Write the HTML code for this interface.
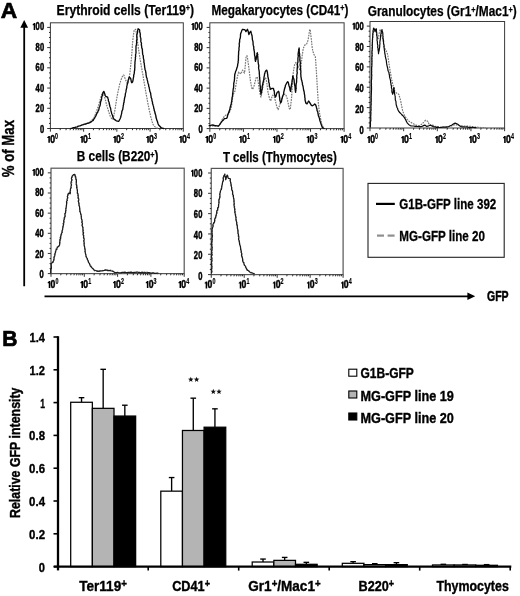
<!DOCTYPE html>
<html><head><meta charset="utf-8"><title>Figure</title>
<style>
html,body{margin:0;padding:0;background:#fff;}
body{width:520px;height:596px;overflow:hidden;font-family:"Liberation Sans", sans-serif;}
svg{display:block;will-change:transform;}
text{font-family:"Liberation Sans", sans-serif;font-weight:bold;fill:#000;}
.box{fill:none;}
.tk{stroke:#333;stroke-width:1;}
.mtk{stroke:#222;stroke-width:0.95;}
.yl{font-size:10px;stroke:#000;stroke-width:0.5;}
.xl{font-size:10px;stroke:#000;stroke-width:0.5;}
.sup{font-size:8.4px;stroke:#000;stroke-width:0.2;}
.sol{fill:none;stroke:#0a0a0a;stroke-width:1.35;stroke-linejoin:round;stroke-linecap:round;}
.sol3{fill:none;stroke:#0a0a0a;stroke-width:1.2;stroke-linejoin:round;stroke-linecap:round;}
.sol2{fill:none;stroke:#1a1a1a;stroke-width:1.2;stroke-linejoin:round;stroke-linecap:round;}
.dash{fill:none;stroke:#777;stroke-width:1.2;stroke-dasharray:1.7 1.0;stroke-linejoin:round;}
.bar{stroke:#000;stroke-width:1.25;}
.err{stroke:#000;stroke-width:1.35;}
.bl{font-size:12.8px;stroke:#000;stroke-width:0.35;}
.ttl{font-size:14px;stroke:#000;stroke-width:0.25;}
.big{font-size:15.4px;stroke:#000;stroke-width:0.4;}
.pan{font-size:22.2px;stroke:#000;stroke-width:0.7;}
</style></head><body>
<svg width="520" height="596" viewBox="0 0 520 596">
<rect x="0" y="0" width="520" height="596" fill="#fff"/>
<!-- Panel letters -->
<text class="pan" x="0.8" y="18.2" textLength="16.4" lengthAdjust="spacingAndGlyphs">A</text>
<text class="pan" x="2.2" y="345.8" textLength="15.2" lengthAdjust="spacingAndGlyphs">B</text>

<!-- Titles -->
<text class="ttl" x="56.6" y="14.6" textLength="137.5" lengthAdjust="spacingAndGlyphs">Erythroid cells (Ter119<tspan font-size="8.5" dy="-3.4">+</tspan><tspan dy="3.4">)</tspan></text>
<text class="ttl" x="211.5" y="14.6" textLength="136.8" lengthAdjust="spacingAndGlyphs">Megakaryocytes (CD41<tspan font-size="8.5" dy="-3.4">+</tspan><tspan dy="3.4">)</tspan></text>
<text class="ttl" x="367.7" y="15.9" textLength="149" lengthAdjust="spacingAndGlyphs">Granulocytes (Gr1<tspan font-size="8.5" dy="-3.4">+</tspan><tspan dy="3.4">/Mac1</tspan><tspan font-size="8.5" dy="-3.4">+</tspan><tspan dy="3.4">)</tspan></text>
<text class="ttl" x="76.8" y="161.3" textLength="81.7" lengthAdjust="spacingAndGlyphs">B cells (B220<tspan font-size="8.5" dy="-3.4">+</tspan><tspan dy="3.4">)</tspan></text>
<text class="ttl" x="222.9" y="162" textLength="113.9" lengthAdjust="spacingAndGlyphs">T cells (Thymocytes)</text>

<!-- big arrows -->
<line x1="24.2" y1="27" x2="24.2" y2="286.3" stroke="#000" stroke-width="1.8"/>
<polygon points="24.2,20.0 20.3,27.8 28.1,27.8" fill="#000"/>
<line x1="44.5" y1="296.3" x2="468.5" y2="296.3" stroke="#000" stroke-width="1.8"/>
<polygon points="475.2,296.3 467.4,292.5 467.4,300.1" fill="#000"/>
<text class="big" x="487" y="301.3" textLength="21.6" lengthAdjust="spacingAndGlyphs" style="font-size:15px;stroke-width:0.5">GFP</text>
<text class="big" transform="translate(13.6,177.2) rotate(-90)" textLength="57.2" lengthAdjust="spacingAndGlyphs" style="font-size:16.2px;stroke-width:0.4">% of Max</text>

<!-- legend A -->
<rect x="368" y="183.4" width="136.2" height="73.9" fill="#fff" stroke="#222" stroke-width="1.1"/>
<line x1="376" y1="203.9" x2="394.8" y2="203.9" stroke="#000" stroke-width="2.2"/>
<line x1="377" y1="235.6" x2="384" y2="235.6" stroke="#8e8e8e" stroke-width="2.2"/>
<line x1="387.6" y1="235.6" x2="394.6" y2="235.6" stroke="#8e8e8e" stroke-width="2.2"/>
<text x="399.3" y="209.3" font-size="15" stroke="#000" stroke-width="0.3" textLength="97" lengthAdjust="spacingAndGlyphs">G1B-GFP line 392</text>
<text x="399.3" y="240.7" font-size="15" stroke="#000" stroke-width="0.3" textLength="85.7" lengthAdjust="spacingAndGlyphs">MG-GFP line 20</text>

<rect class="box" x="50.4" y="22.8" width="132.90" height="105.70" stroke="#3a3a3a" stroke-width="1.0"/>
<line class="tk" x1="47.199999999999996" y1="128.50" x2="50.4" y2="128.50"/>
<text class="yl" x="39.90" y="133.05" textLength="4.20" lengthAdjust="spacingAndGlyphs">0</text>
<line class="mtk" x1="49.0" y1="123.44" x2="50.4" y2="123.44"/>
<line class="mtk" x1="49.0" y1="118.39" x2="50.4" y2="118.39"/>
<line class="mtk" x1="49.0" y1="113.34" x2="50.4" y2="113.34"/>
<line class="tk" x1="47.199999999999996" y1="108.28" x2="50.4" y2="108.28"/>
<text class="yl" x="39.90" y="112.44" textLength="4.20" lengthAdjust="spacingAndGlyphs">0</text><text class="yl" x="35.45" y="112.44" textLength="4.20" lengthAdjust="spacingAndGlyphs">2</text>
<line class="mtk" x1="49.0" y1="103.22" x2="50.4" y2="103.22"/>
<line class="mtk" x1="49.0" y1="98.17" x2="50.4" y2="98.17"/>
<line class="mtk" x1="49.0" y1="93.12" x2="50.4" y2="93.12"/>
<line class="tk" x1="47.199999999999996" y1="88.06" x2="50.4" y2="88.06"/>
<text class="yl" x="39.90" y="91.83" textLength="4.20" lengthAdjust="spacingAndGlyphs">0</text><text class="yl" x="35.45" y="91.83" textLength="4.20" lengthAdjust="spacingAndGlyphs">4</text>
<line class="mtk" x1="49.0" y1="83.00" x2="50.4" y2="83.00"/>
<line class="mtk" x1="49.0" y1="77.95" x2="50.4" y2="77.95"/>
<line class="mtk" x1="49.0" y1="72.90" x2="50.4" y2="72.90"/>
<line class="tk" x1="47.199999999999996" y1="67.84" x2="50.4" y2="67.84"/>
<text class="yl" x="39.90" y="71.22" textLength="4.20" lengthAdjust="spacingAndGlyphs">0</text><text class="yl" x="35.45" y="71.22" textLength="4.20" lengthAdjust="spacingAndGlyphs">6</text>
<line class="mtk" x1="49.0" y1="62.79" x2="50.4" y2="62.79"/>
<line class="mtk" x1="49.0" y1="57.73" x2="50.4" y2="57.73"/>
<line class="mtk" x1="49.0" y1="52.68" x2="50.4" y2="52.68"/>
<line class="tk" x1="47.199999999999996" y1="47.62" x2="50.4" y2="47.62"/>
<text class="yl" x="39.90" y="50.61" textLength="4.20" lengthAdjust="spacingAndGlyphs">0</text><text class="yl" x="35.45" y="50.61" textLength="4.20" lengthAdjust="spacingAndGlyphs">8</text>
<line class="mtk" x1="49.0" y1="42.57" x2="50.4" y2="42.57"/>
<line class="mtk" x1="49.0" y1="37.51" x2="50.4" y2="37.51"/>
<line class="mtk" x1="49.0" y1="32.46" x2="50.4" y2="32.46"/>
<line class="tk" x1="47.199999999999996" y1="27.40" x2="50.4" y2="27.40"/>
<text class="yl" x="39.90" y="30.00" textLength="4.20" lengthAdjust="spacingAndGlyphs">0</text><text class="yl" x="35.45" y="30.00" textLength="4.20" lengthAdjust="spacingAndGlyphs">0</text><path fill="#000" d="M33.70,23.10 L35.20,23.10 L35.20,30.00 L33.70,30.00 L33.70,25.15 L32.70,25.15 L32.70,24.25 Q33.60,24.10 33.85,23.10 Z"/>
<line class="tk" x1="50.40" y1="128.5" x2="50.40" y2="131.7"/>
<path fill="#000" d="M48.35,135.90 L49.90,135.90 L49.90,142.80 L48.35,142.80 L48.35,137.95 L47.30,137.95 L47.30,137.05 Q48.25,136.90 48.50,135.90 Z"/>
<text class="xl" x="50.15" y="142.80" textLength="4.8" lengthAdjust="spacingAndGlyphs">0</text>
<text class="sup" x="55.10" y="138.70" textLength="3.0" lengthAdjust="spacingAndGlyphs">0</text>
<line class="mtk" x1="60.40" y1="128.5" x2="60.10" y2="130.2"/>
<line class="mtk" x1="66.25" y1="128.5" x2="65.95" y2="130.2"/>
<line class="mtk" x1="70.40" y1="128.5" x2="70.10" y2="130.2"/>
<line class="mtk" x1="73.62" y1="128.5" x2="73.32" y2="130.2"/>
<line class="mtk" x1="76.25" y1="128.5" x2="75.95" y2="130.2"/>
<line class="mtk" x1="78.48" y1="128.5" x2="78.18" y2="130.2"/>
<line class="mtk" x1="80.41" y1="128.5" x2="80.11" y2="130.2"/>
<line class="mtk" x1="82.10" y1="128.5" x2="81.80" y2="130.2"/>
<line class="tk" x1="83.62" y1="128.5" x2="83.62" y2="131.7"/>
<path fill="#000" d="M81.32,135.90 L82.87,135.90 L82.87,142.80 L81.32,142.80 L81.32,137.95 L80.27,137.95 L80.27,137.05 Q81.22,136.90 81.47,135.90 Z"/>
<text class="xl" x="83.12" y="142.80" textLength="4.8" lengthAdjust="spacingAndGlyphs">0</text>
<text class="sup" x="88.07" y="138.70" textLength="3.0" lengthAdjust="spacingAndGlyphs">1</text>
<line class="mtk" x1="93.63" y1="128.5" x2="93.33" y2="130.2"/>
<line class="mtk" x1="99.48" y1="128.5" x2="99.18" y2="130.2"/>
<line class="mtk" x1="103.63" y1="128.5" x2="103.33" y2="130.2"/>
<line class="mtk" x1="106.85" y1="128.5" x2="106.55" y2="130.2"/>
<line class="mtk" x1="109.48" y1="128.5" x2="109.18" y2="130.2"/>
<line class="mtk" x1="111.70" y1="128.5" x2="111.40" y2="130.2"/>
<line class="mtk" x1="113.63" y1="128.5" x2="113.33" y2="130.2"/>
<line class="mtk" x1="115.33" y1="128.5" x2="115.03" y2="130.2"/>
<line class="tk" x1="116.85" y1="128.5" x2="116.85" y2="131.7"/>
<path fill="#000" d="M114.30,135.90 L115.85,135.90 L115.85,142.80 L114.30,142.80 L114.30,137.95 L113.25,137.95 L113.25,137.05 Q114.20,136.90 114.45,135.90 Z"/>
<text class="xl" x="116.10" y="142.80" textLength="4.8" lengthAdjust="spacingAndGlyphs">0</text>
<text class="sup" x="121.05" y="138.70" textLength="3.0" lengthAdjust="spacingAndGlyphs">2</text>
<line class="mtk" x1="126.85" y1="128.5" x2="126.55" y2="130.2"/>
<line class="mtk" x1="132.70" y1="128.5" x2="132.40" y2="130.2"/>
<line class="mtk" x1="136.85" y1="128.5" x2="136.55" y2="130.2"/>
<line class="mtk" x1="140.07" y1="128.5" x2="139.77" y2="130.2"/>
<line class="mtk" x1="142.70" y1="128.5" x2="142.40" y2="130.2"/>
<line class="mtk" x1="144.93" y1="128.5" x2="144.63" y2="130.2"/>
<line class="mtk" x1="146.86" y1="128.5" x2="146.56" y2="130.2"/>
<line class="mtk" x1="148.55" y1="128.5" x2="148.25" y2="130.2"/>
<line class="tk" x1="150.08" y1="128.5" x2="150.08" y2="131.7"/>
<path fill="#000" d="M147.27,135.90 L148.82,135.90 L148.82,142.80 L147.27,142.80 L147.27,137.95 L146.22,137.95 L146.22,137.05 Q147.17,136.90 147.42,135.90 Z"/>
<text class="xl" x="149.07" y="142.80" textLength="4.8" lengthAdjust="spacingAndGlyphs">0</text>
<text class="sup" x="154.02" y="138.70" textLength="3.0" lengthAdjust="spacingAndGlyphs">3</text>
<line class="mtk" x1="160.08" y1="128.5" x2="159.78" y2="130.2"/>
<line class="mtk" x1="165.93" y1="128.5" x2="165.63" y2="130.2"/>
<line class="mtk" x1="170.08" y1="128.5" x2="169.78" y2="130.2"/>
<line class="mtk" x1="173.30" y1="128.5" x2="173.00" y2="130.2"/>
<line class="mtk" x1="175.93" y1="128.5" x2="175.63" y2="130.2"/>
<line class="mtk" x1="178.15" y1="128.5" x2="177.85" y2="130.2"/>
<line class="mtk" x1="180.08" y1="128.5" x2="179.78" y2="130.2"/>
<line class="mtk" x1="181.78" y1="128.5" x2="181.48" y2="130.2"/>
<line class="tk" x1="183.30" y1="128.5" x2="183.30" y2="131.7"/>
<path fill="#000" d="M180.25,135.90 L181.80,135.90 L181.80,142.80 L180.25,142.80 L180.25,137.95 L179.20,137.95 L179.20,137.05 Q180.15,136.90 180.40,135.90 Z"/>
<text class="xl" x="182.05" y="142.80" textLength="4.8" lengthAdjust="spacingAndGlyphs">0</text>
<text class="sup" x="187.00" y="138.70" textLength="3.0" lengthAdjust="spacingAndGlyphs">4</text>
<rect class="box" x="209.85" y="22.8" width="134.25" height="105.80" stroke="#3a3a3a" stroke-width="1.0"/>
<line class="tk" x1="206.65" y1="128.60" x2="209.85" y2="128.60"/>
<text class="yl" x="198.60" y="133.10" textLength="4.20" lengthAdjust="spacingAndGlyphs">0</text>
<line class="mtk" x1="208.45" y1="123.54" x2="209.85" y2="123.54"/>
<line class="mtk" x1="208.45" y1="118.48" x2="209.85" y2="118.48"/>
<line class="mtk" x1="208.45" y1="113.42" x2="209.85" y2="113.42"/>
<line class="tk" x1="206.65" y1="108.36" x2="209.85" y2="108.36"/>
<text class="yl" x="198.60" y="112.46" textLength="4.20" lengthAdjust="spacingAndGlyphs">0</text><text class="yl" x="194.15" y="112.46" textLength="4.20" lengthAdjust="spacingAndGlyphs">2</text>
<line class="mtk" x1="208.45" y1="103.30" x2="209.85" y2="103.30"/>
<line class="mtk" x1="208.45" y1="98.24" x2="209.85" y2="98.24"/>
<line class="mtk" x1="208.45" y1="93.18" x2="209.85" y2="93.18"/>
<line class="tk" x1="206.65" y1="88.12" x2="209.85" y2="88.12"/>
<text class="yl" x="198.60" y="91.82" textLength="4.20" lengthAdjust="spacingAndGlyphs">0</text><text class="yl" x="194.15" y="91.82" textLength="4.20" lengthAdjust="spacingAndGlyphs">4</text>
<line class="mtk" x1="208.45" y1="83.06" x2="209.85" y2="83.06"/>
<line class="mtk" x1="208.45" y1="78.00" x2="209.85" y2="78.00"/>
<line class="mtk" x1="208.45" y1="72.94" x2="209.85" y2="72.94"/>
<line class="tk" x1="206.65" y1="67.88" x2="209.85" y2="67.88"/>
<text class="yl" x="198.60" y="71.18" textLength="4.20" lengthAdjust="spacingAndGlyphs">0</text><text class="yl" x="194.15" y="71.18" textLength="4.20" lengthAdjust="spacingAndGlyphs">6</text>
<line class="mtk" x1="208.45" y1="62.82" x2="209.85" y2="62.82"/>
<line class="mtk" x1="208.45" y1="57.76" x2="209.85" y2="57.76"/>
<line class="mtk" x1="208.45" y1="52.70" x2="209.85" y2="52.70"/>
<line class="tk" x1="206.65" y1="47.64" x2="209.85" y2="47.64"/>
<text class="yl" x="198.60" y="50.54" textLength="4.20" lengthAdjust="spacingAndGlyphs">0</text><text class="yl" x="194.15" y="50.54" textLength="4.20" lengthAdjust="spacingAndGlyphs">8</text>
<line class="mtk" x1="208.45" y1="42.58" x2="209.85" y2="42.58"/>
<line class="mtk" x1="208.45" y1="37.52" x2="209.85" y2="37.52"/>
<line class="mtk" x1="208.45" y1="32.46" x2="209.85" y2="32.46"/>
<line class="tk" x1="206.65" y1="27.40" x2="209.85" y2="27.40"/>
<text class="yl" x="198.60" y="29.90" textLength="4.20" lengthAdjust="spacingAndGlyphs">0</text><text class="yl" x="194.15" y="29.90" textLength="4.20" lengthAdjust="spacingAndGlyphs">0</text><path fill="#000" d="M192.40,23.00 L193.90,23.00 L193.90,29.90 L192.40,29.90 L192.40,25.05 L191.40,25.05 L191.40,24.15 Q192.30,24.00 192.55,23.00 Z"/>
<line class="tk" x1="209.85" y1="128.6" x2="209.85" y2="131.79999999999998"/>
<path fill="#000" d="M206.45,135.90 L208.00,135.90 L208.00,142.80 L206.45,142.80 L206.45,137.95 L205.40,137.95 L205.40,137.05 Q206.35,136.90 206.60,135.90 Z"/>
<text class="xl" x="208.25" y="142.80" textLength="4.8" lengthAdjust="spacingAndGlyphs">0</text>
<text class="sup" x="213.20" y="138.70" textLength="3.0" lengthAdjust="spacingAndGlyphs">0</text>
<line class="mtk" x1="219.95" y1="128.6" x2="219.65" y2="130.29999999999998"/>
<line class="mtk" x1="225.86" y1="128.6" x2="225.56" y2="130.29999999999998"/>
<line class="mtk" x1="230.06" y1="128.6" x2="229.76" y2="130.29999999999998"/>
<line class="mtk" x1="233.31" y1="128.6" x2="233.01" y2="130.29999999999998"/>
<line class="mtk" x1="235.97" y1="128.6" x2="235.67" y2="130.29999999999998"/>
<line class="mtk" x1="238.21" y1="128.6" x2="237.91" y2="130.29999999999998"/>
<line class="mtk" x1="240.16" y1="128.6" x2="239.86" y2="130.29999999999998"/>
<line class="mtk" x1="241.88" y1="128.6" x2="241.58" y2="130.29999999999998"/>
<line class="tk" x1="243.41" y1="128.6" x2="243.41" y2="131.79999999999998"/>
<path fill="#000" d="M240.20,135.90 L241.75,135.90 L241.75,142.80 L240.20,142.80 L240.20,137.95 L239.15,137.95 L239.15,137.05 Q240.10,136.90 240.35,135.90 Z"/>
<text class="xl" x="242.00" y="142.80" textLength="4.8" lengthAdjust="spacingAndGlyphs">0</text>
<text class="sup" x="246.95" y="138.70" textLength="3.0" lengthAdjust="spacingAndGlyphs">1</text>
<line class="mtk" x1="253.52" y1="128.6" x2="253.22" y2="130.29999999999998"/>
<line class="mtk" x1="259.43" y1="128.6" x2="259.13" y2="130.29999999999998"/>
<line class="mtk" x1="263.62" y1="128.6" x2="263.32" y2="130.29999999999998"/>
<line class="mtk" x1="266.87" y1="128.6" x2="266.57" y2="130.29999999999998"/>
<line class="mtk" x1="269.53" y1="128.6" x2="269.23" y2="130.29999999999998"/>
<line class="mtk" x1="271.78" y1="128.6" x2="271.48" y2="130.29999999999998"/>
<line class="mtk" x1="273.72" y1="128.6" x2="273.42" y2="130.29999999999998"/>
<line class="mtk" x1="275.44" y1="128.6" x2="275.14" y2="130.29999999999998"/>
<line class="tk" x1="276.98" y1="128.6" x2="276.98" y2="131.79999999999998"/>
<path fill="#000" d="M273.95,135.90 L275.50,135.90 L275.50,142.80 L273.95,142.80 L273.95,137.95 L272.90,137.95 L272.90,137.05 Q273.85,136.90 274.10,135.90 Z"/>
<text class="xl" x="275.75" y="142.80" textLength="4.8" lengthAdjust="spacingAndGlyphs">0</text>
<text class="sup" x="280.70" y="138.70" textLength="3.0" lengthAdjust="spacingAndGlyphs">2</text>
<line class="mtk" x1="287.08" y1="128.6" x2="286.78" y2="130.29999999999998"/>
<line class="mtk" x1="292.99" y1="128.6" x2="292.69" y2="130.29999999999998"/>
<line class="mtk" x1="297.18" y1="128.6" x2="296.88" y2="130.29999999999998"/>
<line class="mtk" x1="300.43" y1="128.6" x2="300.13" y2="130.29999999999998"/>
<line class="mtk" x1="303.09" y1="128.6" x2="302.79" y2="130.29999999999998"/>
<line class="mtk" x1="305.34" y1="128.6" x2="305.04" y2="130.29999999999998"/>
<line class="mtk" x1="307.28" y1="128.6" x2="306.98" y2="130.29999999999998"/>
<line class="mtk" x1="309.00" y1="128.6" x2="308.70" y2="130.29999999999998"/>
<line class="tk" x1="310.54" y1="128.6" x2="310.54" y2="131.79999999999998"/>
<path fill="#000" d="M307.70,135.90 L309.25,135.90 L309.25,142.80 L307.70,142.80 L307.70,137.95 L306.65,137.95 L306.65,137.05 Q307.60,136.90 307.85,135.90 Z"/>
<text class="xl" x="309.50" y="142.80" textLength="4.8" lengthAdjust="spacingAndGlyphs">0</text>
<text class="sup" x="314.45" y="138.70" textLength="3.0" lengthAdjust="spacingAndGlyphs">3</text>
<line class="mtk" x1="320.64" y1="128.6" x2="320.34" y2="130.29999999999998"/>
<line class="mtk" x1="326.55" y1="128.6" x2="326.25" y2="130.29999999999998"/>
<line class="mtk" x1="330.74" y1="128.6" x2="330.44" y2="130.29999999999998"/>
<line class="mtk" x1="334.00" y1="128.6" x2="333.70" y2="130.29999999999998"/>
<line class="mtk" x1="336.65" y1="128.6" x2="336.35" y2="130.29999999999998"/>
<line class="mtk" x1="338.90" y1="128.6" x2="338.60" y2="130.29999999999998"/>
<line class="mtk" x1="340.85" y1="128.6" x2="340.55" y2="130.29999999999998"/>
<line class="mtk" x1="342.56" y1="128.6" x2="342.26" y2="130.29999999999998"/>
<line class="tk" x1="344.10" y1="128.6" x2="344.10" y2="131.79999999999998"/>
<path fill="#000" d="M341.45,135.90 L343.00,135.90 L343.00,142.80 L341.45,142.80 L341.45,137.95 L340.40,137.95 L340.40,137.05 Q341.35,136.90 341.60,135.90 Z"/>
<text class="xl" x="343.25" y="142.80" textLength="4.8" lengthAdjust="spacingAndGlyphs">0</text>
<text class="sup" x="348.20" y="138.70" textLength="3.0" lengthAdjust="spacingAndGlyphs">4</text>
<rect class="box" x="370.0" y="21.5" width="134.60" height="106.50" stroke="#3a3a3a" stroke-width="1.0"/>
<line class="tk" x1="366.8" y1="128.00" x2="370.0" y2="128.00"/>
<text class="yl" x="359.60" y="134.35" textLength="4.20" lengthAdjust="spacingAndGlyphs">0</text>
<line class="mtk" x1="368.6" y1="122.91" x2="370.0" y2="122.91"/>
<line class="mtk" x1="368.6" y1="117.81" x2="370.0" y2="117.81"/>
<line class="mtk" x1="368.6" y1="112.72" x2="370.0" y2="112.72"/>
<line class="tk" x1="366.8" y1="107.62" x2="370.0" y2="107.62"/>
<text class="yl" x="359.60" y="113.39" textLength="4.20" lengthAdjust="spacingAndGlyphs">0</text><text class="yl" x="355.15" y="113.39" textLength="4.20" lengthAdjust="spacingAndGlyphs">2</text>
<line class="mtk" x1="368.6" y1="102.53" x2="370.0" y2="102.53"/>
<line class="mtk" x1="368.6" y1="97.43" x2="370.0" y2="97.43"/>
<line class="mtk" x1="368.6" y1="92.33" x2="370.0" y2="92.33"/>
<line class="tk" x1="366.8" y1="87.24" x2="370.0" y2="87.24"/>
<text class="yl" x="359.60" y="92.43" textLength="4.20" lengthAdjust="spacingAndGlyphs">0</text><text class="yl" x="355.15" y="92.43" textLength="4.20" lengthAdjust="spacingAndGlyphs">4</text>
<line class="mtk" x1="368.6" y1="82.14" x2="370.0" y2="82.14"/>
<line class="mtk" x1="368.6" y1="77.05" x2="370.0" y2="77.05"/>
<line class="mtk" x1="368.6" y1="71.95" x2="370.0" y2="71.95"/>
<line class="tk" x1="366.8" y1="66.86" x2="370.0" y2="66.86"/>
<text class="yl" x="359.60" y="71.47" textLength="4.20" lengthAdjust="spacingAndGlyphs">0</text><text class="yl" x="355.15" y="71.47" textLength="4.20" lengthAdjust="spacingAndGlyphs">6</text>
<line class="mtk" x1="368.6" y1="61.76" x2="370.0" y2="61.76"/>
<line class="mtk" x1="368.6" y1="56.67" x2="370.0" y2="56.67"/>
<line class="mtk" x1="368.6" y1="51.57" x2="370.0" y2="51.57"/>
<line class="tk" x1="366.8" y1="46.48" x2="370.0" y2="46.48"/>
<text class="yl" x="359.60" y="50.51" textLength="4.20" lengthAdjust="spacingAndGlyphs">0</text><text class="yl" x="355.15" y="50.51" textLength="4.20" lengthAdjust="spacingAndGlyphs">8</text>
<line class="mtk" x1="368.6" y1="41.38" x2="370.0" y2="41.38"/>
<line class="mtk" x1="368.6" y1="36.29" x2="370.0" y2="36.29"/>
<line class="mtk" x1="368.6" y1="31.19" x2="370.0" y2="31.19"/>
<line class="tk" x1="366.8" y1="26.10" x2="370.0" y2="26.10"/>
<text class="yl" x="359.60" y="29.55" textLength="4.20" lengthAdjust="spacingAndGlyphs">0</text><text class="yl" x="355.15" y="29.55" textLength="4.20" lengthAdjust="spacingAndGlyphs">0</text><path fill="#000" d="M353.40,22.65 L354.90,22.65 L354.90,29.55 L353.40,29.55 L353.40,24.70 L352.40,24.70 L352.40,23.80 Q353.30,23.65 353.55,22.65 Z"/>
<line class="tk" x1="370.00" y1="128.0" x2="370.00" y2="131.2"/>
<path fill="#000" d="M368.35,136.10 L369.90,136.10 L369.90,143.00 L368.35,143.00 L368.35,138.15 L367.30,138.15 L367.30,137.25 Q368.25,137.10 368.50,136.10 Z"/>
<text class="xl" x="370.15" y="143.00" textLength="4.8" lengthAdjust="spacingAndGlyphs">0</text>
<text class="sup" x="375.10" y="138.90" textLength="3.0" lengthAdjust="spacingAndGlyphs">0</text>
<line class="mtk" x1="380.13" y1="128.0" x2="379.83" y2="129.7"/>
<line class="mtk" x1="386.06" y1="128.0" x2="385.76" y2="129.7"/>
<line class="mtk" x1="390.26" y1="128.0" x2="389.96" y2="129.7"/>
<line class="mtk" x1="393.52" y1="128.0" x2="393.22" y2="129.7"/>
<line class="mtk" x1="396.18" y1="128.0" x2="395.88" y2="129.7"/>
<line class="mtk" x1="398.44" y1="128.0" x2="398.14" y2="129.7"/>
<line class="mtk" x1="400.39" y1="128.0" x2="400.09" y2="129.7"/>
<line class="mtk" x1="402.11" y1="128.0" x2="401.81" y2="129.7"/>
<line class="tk" x1="403.65" y1="128.0" x2="403.65" y2="131.2"/>
<path fill="#000" d="M402.30,136.10 L403.85,136.10 L403.85,143.00 L402.30,143.00 L402.30,138.15 L401.25,138.15 L401.25,137.25 Q402.20,137.10 402.45,136.10 Z"/>
<text class="xl" x="404.10" y="143.00" textLength="4.8" lengthAdjust="spacingAndGlyphs">0</text>
<text class="sup" x="409.05" y="138.90" textLength="3.0" lengthAdjust="spacingAndGlyphs">1</text>
<line class="mtk" x1="413.78" y1="128.0" x2="413.48" y2="129.7"/>
<line class="mtk" x1="419.71" y1="128.0" x2="419.41" y2="129.7"/>
<line class="mtk" x1="423.91" y1="128.0" x2="423.61" y2="129.7"/>
<line class="mtk" x1="427.17" y1="128.0" x2="426.87" y2="129.7"/>
<line class="mtk" x1="429.83" y1="128.0" x2="429.53" y2="129.7"/>
<line class="mtk" x1="432.09" y1="128.0" x2="431.79" y2="129.7"/>
<line class="mtk" x1="434.04" y1="128.0" x2="433.74" y2="129.7"/>
<line class="mtk" x1="435.76" y1="128.0" x2="435.46" y2="129.7"/>
<line class="tk" x1="437.30" y1="128.0" x2="437.30" y2="131.2"/>
<path fill="#000" d="M436.25,136.10 L437.80,136.10 L437.80,143.00 L436.25,143.00 L436.25,138.15 L435.20,138.15 L435.20,137.25 Q436.15,137.10 436.40,136.10 Z"/>
<text class="xl" x="438.05" y="143.00" textLength="4.8" lengthAdjust="spacingAndGlyphs">0</text>
<text class="sup" x="443.00" y="138.90" textLength="3.0" lengthAdjust="spacingAndGlyphs">2</text>
<line class="mtk" x1="447.43" y1="128.0" x2="447.13" y2="129.7"/>
<line class="mtk" x1="453.36" y1="128.0" x2="453.06" y2="129.7"/>
<line class="mtk" x1="457.56" y1="128.0" x2="457.26" y2="129.7"/>
<line class="mtk" x1="460.82" y1="128.0" x2="460.52" y2="129.7"/>
<line class="mtk" x1="463.48" y1="128.0" x2="463.18" y2="129.7"/>
<line class="mtk" x1="465.74" y1="128.0" x2="465.44" y2="129.7"/>
<line class="mtk" x1="467.69" y1="128.0" x2="467.39" y2="129.7"/>
<line class="mtk" x1="469.41" y1="128.0" x2="469.11" y2="129.7"/>
<line class="tk" x1="470.95" y1="128.0" x2="470.95" y2="131.2"/>
<path fill="#000" d="M470.20,136.10 L471.75,136.10 L471.75,143.00 L470.20,143.00 L470.20,138.15 L469.15,138.15 L469.15,137.25 Q470.10,137.10 470.35,136.10 Z"/>
<text class="xl" x="472.00" y="143.00" textLength="4.8" lengthAdjust="spacingAndGlyphs">0</text>
<text class="sup" x="476.95" y="138.90" textLength="3.0" lengthAdjust="spacingAndGlyphs">3</text>
<line class="mtk" x1="481.08" y1="128.0" x2="480.78" y2="129.7"/>
<line class="mtk" x1="487.01" y1="128.0" x2="486.71" y2="129.7"/>
<line class="mtk" x1="491.21" y1="128.0" x2="490.91" y2="129.7"/>
<line class="mtk" x1="494.47" y1="128.0" x2="494.17" y2="129.7"/>
<line class="mtk" x1="497.13" y1="128.0" x2="496.83" y2="129.7"/>
<line class="mtk" x1="499.39" y1="128.0" x2="499.09" y2="129.7"/>
<line class="mtk" x1="501.34" y1="128.0" x2="501.04" y2="129.7"/>
<line class="mtk" x1="503.06" y1="128.0" x2="502.76" y2="129.7"/>
<line class="tk" x1="504.60" y1="128.0" x2="504.60" y2="131.2"/>
<path fill="#000" d="M504.15,136.10 L505.70,136.10 L505.70,143.00 L504.15,143.00 L504.15,138.15 L503.10,138.15 L503.10,137.25 Q504.05,137.10 504.30,136.10 Z"/>
<text class="xl" x="505.95" y="143.00" textLength="4.8" lengthAdjust="spacingAndGlyphs">0</text>
<text class="sup" x="510.90" y="138.90" textLength="3.0" lengthAdjust="spacingAndGlyphs">4</text>
<rect class="box" x="51.0" y="168.2" width="133.20" height="105.40" stroke="#555" stroke-width="1.2"/>
<line class="tk" x1="47.8" y1="273.60" x2="51.0" y2="273.60"/>
<text class="yl" x="39.60" y="278.40" textLength="4.20" lengthAdjust="spacingAndGlyphs">0</text>
<line class="mtk" x1="49.6" y1="268.56" x2="51.0" y2="268.56"/>
<line class="mtk" x1="49.6" y1="263.53" x2="51.0" y2="263.53"/>
<line class="mtk" x1="49.6" y1="258.49" x2="51.0" y2="258.49"/>
<line class="tk" x1="47.8" y1="253.45" x2="51.0" y2="253.45"/>
<text class="yl" x="39.60" y="257.89" textLength="4.20" lengthAdjust="spacingAndGlyphs">0</text><text class="yl" x="35.15" y="257.89" textLength="4.20" lengthAdjust="spacingAndGlyphs">2</text>
<line class="mtk" x1="49.6" y1="248.41" x2="51.0" y2="248.41"/>
<line class="mtk" x1="49.6" y1="243.38" x2="51.0" y2="243.38"/>
<line class="mtk" x1="49.6" y1="238.34" x2="51.0" y2="238.34"/>
<line class="tk" x1="47.8" y1="233.30" x2="51.0" y2="233.30"/>
<text class="yl" x="39.60" y="237.38" textLength="4.20" lengthAdjust="spacingAndGlyphs">0</text><text class="yl" x="35.15" y="237.38" textLength="4.20" lengthAdjust="spacingAndGlyphs">4</text>
<line class="mtk" x1="49.6" y1="228.26" x2="51.0" y2="228.26"/>
<line class="mtk" x1="49.6" y1="223.23" x2="51.0" y2="223.23"/>
<line class="mtk" x1="49.6" y1="218.19" x2="51.0" y2="218.19"/>
<line class="tk" x1="47.8" y1="213.15" x2="51.0" y2="213.15"/>
<text class="yl" x="39.60" y="216.87" textLength="4.20" lengthAdjust="spacingAndGlyphs">0</text><text class="yl" x="35.15" y="216.87" textLength="4.20" lengthAdjust="spacingAndGlyphs">6</text>
<line class="mtk" x1="49.6" y1="208.11" x2="51.0" y2="208.11"/>
<line class="mtk" x1="49.6" y1="203.07" x2="51.0" y2="203.07"/>
<line class="mtk" x1="49.6" y1="198.04" x2="51.0" y2="198.04"/>
<line class="tk" x1="47.8" y1="193.00" x2="51.0" y2="193.00"/>
<text class="yl" x="39.60" y="196.36" textLength="4.20" lengthAdjust="spacingAndGlyphs">0</text><text class="yl" x="35.15" y="196.36" textLength="4.20" lengthAdjust="spacingAndGlyphs">8</text>
<line class="mtk" x1="49.6" y1="187.96" x2="51.0" y2="187.96"/>
<line class="mtk" x1="49.6" y1="182.93" x2="51.0" y2="182.93"/>
<line class="mtk" x1="49.6" y1="177.89" x2="51.0" y2="177.89"/>
<line class="tk" x1="47.8" y1="172.85" x2="51.0" y2="172.85"/>
<text class="yl" x="39.60" y="175.85" textLength="4.20" lengthAdjust="spacingAndGlyphs">0</text><text class="yl" x="35.15" y="175.85" textLength="4.20" lengthAdjust="spacingAndGlyphs">0</text><path fill="#000" d="M33.40,168.95 L34.90,168.95 L34.90,175.85 L33.40,175.85 L33.40,171.00 L32.40,171.00 L32.40,170.10 Q33.30,169.95 33.55,168.95 Z"/>
<line class="tk" x1="51.00" y1="273.6" x2="51.00" y2="276.8"/>
<path fill="#000" d="M48.75,281.10 L50.30,281.10 L50.30,288.00 L48.75,288.00 L48.75,283.15 L47.70,283.15 L47.70,282.25 Q48.65,282.10 48.90,281.10 Z"/>
<text class="xl" x="50.55" y="288.00" textLength="4.8" lengthAdjust="spacingAndGlyphs">0</text>
<text class="sup" x="55.50" y="283.90" textLength="3.0" lengthAdjust="spacingAndGlyphs">0</text>
<line class="mtk" x1="61.02" y1="273.6" x2="60.72" y2="275.3"/>
<line class="mtk" x1="66.89" y1="273.6" x2="66.59" y2="275.3"/>
<line class="mtk" x1="71.05" y1="273.6" x2="70.75" y2="275.3"/>
<line class="mtk" x1="74.28" y1="273.6" x2="73.98" y2="275.3"/>
<line class="mtk" x1="76.91" y1="273.6" x2="76.61" y2="275.3"/>
<line class="mtk" x1="79.14" y1="273.6" x2="78.84" y2="275.3"/>
<line class="mtk" x1="81.07" y1="273.6" x2="80.77" y2="275.3"/>
<line class="mtk" x1="82.78" y1="273.6" x2="82.48" y2="275.3"/>
<line class="tk" x1="84.30" y1="273.6" x2="84.30" y2="276.8"/>
<path fill="#000" d="M81.45,281.10 L83.00,281.10 L83.00,288.00 L81.45,288.00 L81.45,283.15 L80.40,283.15 L80.40,282.25 Q81.35,282.10 81.60,281.10 Z"/>
<text class="xl" x="83.25" y="288.00" textLength="4.8" lengthAdjust="spacingAndGlyphs">0</text>
<text class="sup" x="88.20" y="283.90" textLength="3.0" lengthAdjust="spacingAndGlyphs">1</text>
<line class="mtk" x1="94.32" y1="273.6" x2="94.02" y2="275.3"/>
<line class="mtk" x1="100.19" y1="273.6" x2="99.89" y2="275.3"/>
<line class="mtk" x1="104.35" y1="273.6" x2="104.05" y2="275.3"/>
<line class="mtk" x1="107.58" y1="273.6" x2="107.28" y2="275.3"/>
<line class="mtk" x1="110.21" y1="273.6" x2="109.91" y2="275.3"/>
<line class="mtk" x1="112.44" y1="273.6" x2="112.14" y2="275.3"/>
<line class="mtk" x1="114.37" y1="273.6" x2="114.07" y2="275.3"/>
<line class="mtk" x1="116.08" y1="273.6" x2="115.78" y2="275.3"/>
<line class="tk" x1="117.60" y1="273.6" x2="117.60" y2="276.8"/>
<path fill="#000" d="M114.15,281.10 L115.70,281.10 L115.70,288.00 L114.15,288.00 L114.15,283.15 L113.10,283.15 L113.10,282.25 Q114.05,282.10 114.30,281.10 Z"/>
<text class="xl" x="115.95" y="288.00" textLength="4.8" lengthAdjust="spacingAndGlyphs">0</text>
<text class="sup" x="120.90" y="283.90" textLength="3.0" lengthAdjust="spacingAndGlyphs">2</text>
<line class="mtk" x1="127.62" y1="273.6" x2="127.32" y2="275.3"/>
<line class="mtk" x1="133.49" y1="273.6" x2="133.19" y2="275.3"/>
<line class="mtk" x1="137.65" y1="273.6" x2="137.35" y2="275.3"/>
<line class="mtk" x1="140.88" y1="273.6" x2="140.58" y2="275.3"/>
<line class="mtk" x1="143.51" y1="273.6" x2="143.21" y2="275.3"/>
<line class="mtk" x1="145.74" y1="273.6" x2="145.44" y2="275.3"/>
<line class="mtk" x1="147.67" y1="273.6" x2="147.37" y2="275.3"/>
<line class="mtk" x1="149.38" y1="273.6" x2="149.08" y2="275.3"/>
<line class="tk" x1="150.90" y1="273.6" x2="150.90" y2="276.8"/>
<path fill="#000" d="M146.85,281.10 L148.40,281.10 L148.40,288.00 L146.85,288.00 L146.85,283.15 L145.80,283.15 L145.80,282.25 Q146.75,282.10 147.00,281.10 Z"/>
<text class="xl" x="148.65" y="288.00" textLength="4.8" lengthAdjust="spacingAndGlyphs">0</text>
<text class="sup" x="153.60" y="283.90" textLength="3.0" lengthAdjust="spacingAndGlyphs">3</text>
<line class="mtk" x1="160.92" y1="273.6" x2="160.62" y2="275.3"/>
<line class="mtk" x1="166.79" y1="273.6" x2="166.49" y2="275.3"/>
<line class="mtk" x1="170.95" y1="273.6" x2="170.65" y2="275.3"/>
<line class="mtk" x1="174.18" y1="273.6" x2="173.88" y2="275.3"/>
<line class="mtk" x1="176.81" y1="273.6" x2="176.51" y2="275.3"/>
<line class="mtk" x1="179.04" y1="273.6" x2="178.74" y2="275.3"/>
<line class="mtk" x1="180.97" y1="273.6" x2="180.67" y2="275.3"/>
<line class="mtk" x1="182.68" y1="273.6" x2="182.38" y2="275.3"/>
<line class="tk" x1="184.20" y1="273.6" x2="184.20" y2="276.8"/>
<path fill="#000" d="M179.55,281.10 L181.10,281.10 L181.10,288.00 L179.55,288.00 L179.55,283.15 L178.50,283.15 L178.50,282.25 Q179.45,282.10 179.70,281.10 Z"/>
<text class="xl" x="181.35" y="288.00" textLength="4.8" lengthAdjust="spacingAndGlyphs">0</text>
<text class="sup" x="186.30" y="283.90" textLength="3.0" lengthAdjust="spacingAndGlyphs">4</text>
<rect class="box" x="211.25" y="168.4" width="131.85" height="106.20" stroke="#555" stroke-width="1.2"/>
<line class="tk" x1="208.05" y1="274.60" x2="211.25" y2="274.60"/>
<text class="yl" x="198.20" y="279.80" textLength="4.20" lengthAdjust="spacingAndGlyphs">0</text>
<line class="mtk" x1="209.85" y1="269.52" x2="211.25" y2="269.52"/>
<line class="mtk" x1="209.85" y1="264.44" x2="211.25" y2="264.44"/>
<line class="mtk" x1="209.85" y1="259.36" x2="211.25" y2="259.36"/>
<line class="tk" x1="208.05" y1="254.28" x2="211.25" y2="254.28"/>
<text class="yl" x="198.20" y="259.15" textLength="4.20" lengthAdjust="spacingAndGlyphs">0</text><text class="yl" x="193.75" y="259.15" textLength="4.20" lengthAdjust="spacingAndGlyphs">2</text>
<line class="mtk" x1="209.85" y1="249.20" x2="211.25" y2="249.20"/>
<line class="mtk" x1="209.85" y1="244.12" x2="211.25" y2="244.12"/>
<line class="mtk" x1="209.85" y1="239.04" x2="211.25" y2="239.04"/>
<line class="tk" x1="208.05" y1="233.96" x2="211.25" y2="233.96"/>
<text class="yl" x="198.20" y="238.50" textLength="4.20" lengthAdjust="spacingAndGlyphs">0</text><text class="yl" x="193.75" y="238.50" textLength="4.20" lengthAdjust="spacingAndGlyphs">4</text>
<line class="mtk" x1="209.85" y1="228.88" x2="211.25" y2="228.88"/>
<line class="mtk" x1="209.85" y1="223.80" x2="211.25" y2="223.80"/>
<line class="mtk" x1="209.85" y1="218.72" x2="211.25" y2="218.72"/>
<line class="tk" x1="208.05" y1="213.64" x2="211.25" y2="213.64"/>
<text class="yl" x="198.20" y="217.85" textLength="4.20" lengthAdjust="spacingAndGlyphs">0</text><text class="yl" x="193.75" y="217.85" textLength="4.20" lengthAdjust="spacingAndGlyphs">6</text>
<line class="mtk" x1="209.85" y1="208.56" x2="211.25" y2="208.56"/>
<line class="mtk" x1="209.85" y1="203.48" x2="211.25" y2="203.48"/>
<line class="mtk" x1="209.85" y1="198.40" x2="211.25" y2="198.40"/>
<line class="tk" x1="208.05" y1="193.32" x2="211.25" y2="193.32"/>
<text class="yl" x="198.20" y="197.20" textLength="4.20" lengthAdjust="spacingAndGlyphs">0</text><text class="yl" x="193.75" y="197.20" textLength="4.20" lengthAdjust="spacingAndGlyphs">8</text>
<line class="mtk" x1="209.85" y1="188.24" x2="211.25" y2="188.24"/>
<line class="mtk" x1="209.85" y1="183.16" x2="211.25" y2="183.16"/>
<line class="mtk" x1="209.85" y1="178.08" x2="211.25" y2="178.08"/>
<line class="tk" x1="208.05" y1="173.00" x2="211.25" y2="173.00"/>
<text class="yl" x="198.20" y="176.55" textLength="4.20" lengthAdjust="spacingAndGlyphs">0</text><text class="yl" x="193.75" y="176.55" textLength="4.20" lengthAdjust="spacingAndGlyphs">0</text><path fill="#000" d="M192.00,169.65 L193.50,169.65 L193.50,176.55 L192.00,176.55 L192.00,171.70 L191.00,171.70 L191.00,170.80 Q191.90,170.65 192.15,169.65 Z"/>
<line class="tk" x1="211.25" y1="274.6" x2="211.25" y2="277.8"/>
<path fill="#000" d="M205.65,281.50 L207.20,281.50 L207.20,288.40 L205.65,288.40 L205.65,283.55 L204.60,283.55 L204.60,282.65 Q205.55,282.50 205.80,281.50 Z"/>
<text class="xl" x="207.45" y="288.40" textLength="4.8" lengthAdjust="spacingAndGlyphs">0</text>
<text class="sup" x="212.40" y="284.30" textLength="3.0" lengthAdjust="spacingAndGlyphs">0</text>
<line class="mtk" x1="221.17" y1="274.6" x2="220.87" y2="276.3"/>
<line class="mtk" x1="226.98" y1="274.6" x2="226.68" y2="276.3"/>
<line class="mtk" x1="231.10" y1="274.6" x2="230.80" y2="276.3"/>
<line class="mtk" x1="234.29" y1="274.6" x2="233.99" y2="276.3"/>
<line class="mtk" x1="236.90" y1="274.6" x2="236.60" y2="276.3"/>
<line class="mtk" x1="239.11" y1="274.6" x2="238.81" y2="276.3"/>
<line class="mtk" x1="241.02" y1="274.6" x2="240.72" y2="276.3"/>
<line class="mtk" x1="242.70" y1="274.6" x2="242.40" y2="276.3"/>
<line class="tk" x1="244.21" y1="274.6" x2="244.21" y2="277.8"/>
<path fill="#000" d="M239.75,281.50 L241.30,281.50 L241.30,288.40 L239.75,288.40 L239.75,283.55 L238.70,283.55 L238.70,282.65 Q239.65,282.50 239.90,281.50 Z"/>
<text class="xl" x="241.55" y="288.40" textLength="4.8" lengthAdjust="spacingAndGlyphs">0</text>
<text class="sup" x="246.50" y="284.30" textLength="3.0" lengthAdjust="spacingAndGlyphs">1</text>
<line class="mtk" x1="254.14" y1="274.6" x2="253.84" y2="276.3"/>
<line class="mtk" x1="259.94" y1="274.6" x2="259.64" y2="276.3"/>
<line class="mtk" x1="264.06" y1="274.6" x2="263.76" y2="276.3"/>
<line class="mtk" x1="267.25" y1="274.6" x2="266.95" y2="276.3"/>
<line class="mtk" x1="269.86" y1="274.6" x2="269.56" y2="276.3"/>
<line class="mtk" x1="272.07" y1="274.6" x2="271.77" y2="276.3"/>
<line class="mtk" x1="273.98" y1="274.6" x2="273.68" y2="276.3"/>
<line class="mtk" x1="275.67" y1="274.6" x2="275.37" y2="276.3"/>
<line class="tk" x1="277.18" y1="274.6" x2="277.18" y2="277.8"/>
<path fill="#000" d="M273.85,281.50 L275.40,281.50 L275.40,288.40 L273.85,288.40 L273.85,283.55 L272.80,283.55 L272.80,282.65 Q273.75,282.50 274.00,281.50 Z"/>
<text class="xl" x="275.65" y="288.40" textLength="4.8" lengthAdjust="spacingAndGlyphs">0</text>
<text class="sup" x="280.60" y="284.30" textLength="3.0" lengthAdjust="spacingAndGlyphs">2</text>
<line class="mtk" x1="287.10" y1="274.6" x2="286.80" y2="276.3"/>
<line class="mtk" x1="292.90" y1="274.6" x2="292.60" y2="276.3"/>
<line class="mtk" x1="297.02" y1="274.6" x2="296.72" y2="276.3"/>
<line class="mtk" x1="300.21" y1="274.6" x2="299.91" y2="276.3"/>
<line class="mtk" x1="302.82" y1="274.6" x2="302.52" y2="276.3"/>
<line class="mtk" x1="305.03" y1="274.6" x2="304.73" y2="276.3"/>
<line class="mtk" x1="306.94" y1="274.6" x2="306.64" y2="276.3"/>
<line class="mtk" x1="308.63" y1="274.6" x2="308.33" y2="276.3"/>
<line class="tk" x1="310.14" y1="274.6" x2="310.14" y2="277.8"/>
<path fill="#000" d="M307.95,281.50 L309.50,281.50 L309.50,288.40 L307.95,288.40 L307.95,283.55 L306.90,283.55 L306.90,282.65 Q307.85,282.50 308.10,281.50 Z"/>
<text class="xl" x="309.75" y="288.40" textLength="4.8" lengthAdjust="spacingAndGlyphs">0</text>
<text class="sup" x="314.70" y="284.30" textLength="3.0" lengthAdjust="spacingAndGlyphs">3</text>
<line class="mtk" x1="320.06" y1="274.6" x2="319.76" y2="276.3"/>
<line class="mtk" x1="325.86" y1="274.6" x2="325.56" y2="276.3"/>
<line class="mtk" x1="329.98" y1="274.6" x2="329.68" y2="276.3"/>
<line class="mtk" x1="333.18" y1="274.6" x2="332.88" y2="276.3"/>
<line class="mtk" x1="335.79" y1="274.6" x2="335.49" y2="276.3"/>
<line class="mtk" x1="337.99" y1="274.6" x2="337.69" y2="276.3"/>
<line class="mtk" x1="339.91" y1="274.6" x2="339.61" y2="276.3"/>
<line class="mtk" x1="341.59" y1="274.6" x2="341.29" y2="276.3"/>
<line class="tk" x1="343.10" y1="274.6" x2="343.10" y2="277.8"/>
<path fill="#000" d="M342.05,281.50 L343.60,281.50 L343.60,288.40 L342.05,288.40 L342.05,283.55 L341.00,283.55 L341.00,282.65 Q341.95,282.50 342.20,281.50 Z"/>
<text class="xl" x="343.85" y="288.40" textLength="4.8" lengthAdjust="spacingAndGlyphs">0</text>
<text class="sup" x="348.80" y="284.30" textLength="3.0" lengthAdjust="spacingAndGlyphs">4</text>
<path class="dash" d="M72.0,128.4 L73.1,128.1 L74.4,127.8 L75.7,127.4 L77.0,127.0 L78.1,126.6 L79.2,126.1 L80.3,125.7 L81.6,125.2 L82.8,124.8 L84.1,124.3 L85.4,123.8 L86.8,123.4 L88.1,122.8 L89.3,122.3 L90.4,121.4 L91.3,120.6 L92.3,119.7 L93.2,118.7 L94.1,117.5 L94.6,116.4 L95.0,115.3 L95.5,114.2 L95.9,113.0 L96.3,111.7 L96.8,110.5 L97.2,109.3 L97.6,108.1 L98.0,106.9 L98.4,105.6 L98.8,104.4 L99.1,103.1 L99.5,101.9 L99.9,100.6 L100.2,99.4 L100.6,98.3 L100.9,97.2 L101.4,95.7 L101.9,94.3 L102.3,93.2 L102.8,92.4 L103.3,93.2 L103.7,94.4 L104.2,95.8 L104.7,97.2 L105.0,98.4 L105.3,99.7 L105.7,100.9 L106.0,102.3 L106.3,103.6 L106.7,105.0 L107.0,106.2 L107.4,107.4 L107.8,108.7 L108.2,109.9 L108.5,111.2 L108.9,112.4 L109.3,113.5 L109.6,114.6 L110.3,116.2 L110.9,117.4 L111.5,118.5 L112.9,119.4 L113.2,118.4 L113.4,117.4 L113.7,116.2 L114.0,114.9 L114.2,113.6 L114.5,112.2 L114.8,110.7 L115.0,109.6 L115.2,108.5 L115.4,107.3 L115.5,106.1 L115.7,104.9 L115.9,103.7 L116.1,102.5 L116.3,101.2 L116.5,100.0 L116.7,98.8 L116.9,97.6 L117.1,96.4 L117.3,95.3 L117.6,93.9 L117.9,92.5 L118.1,91.2 L118.4,89.9 L118.7,88.6 L119.0,87.3 L119.3,86.1 L119.5,84.9 L119.8,83.7 L120.3,82.2 L120.7,80.7 L121.2,79.4 L121.7,78.2 L122.1,77.0 L122.9,75.6 L123.7,75.0 L124.2,76.0 L124.6,77.2 L125.1,78.6 L125.6,79.8 L126.2,81.3 L126.9,82.8 L127.5,83.7 L127.8,82.8 L128.2,81.7 L128.5,80.5 L128.8,79.1 L129.2,77.6 L129.5,76.0 L129.6,74.9 L129.8,73.8 L129.9,72.6 L130.1,71.4 L130.2,70.2 L130.3,68.9 L130.5,67.7 L130.6,66.4 L130.7,65.1 L130.9,63.8 L131.0,62.5 L131.1,61.2 L131.3,59.9 L131.4,58.6 L131.5,57.4 L131.6,56.2 L131.7,55.0 L131.8,53.7 L131.9,52.5 L132.0,51.2 L132.1,50.0 L132.2,48.7 L132.3,47.5 L132.3,46.2 L132.4,45.0 L132.5,43.8 L132.6,42.6 L132.7,41.5 L132.8,40.4 L132.9,39.3 L133.1,37.8 L133.3,36.5 L133.4,35.1 L133.6,33.9 L133.8,32.7 L134.0,31.7 L134.1,30.6 L134.3,29.7 L135.6,29.3 L135.8,30.4 L136.1,31.6 L136.3,33.0 L136.5,34.4 L136.8,35.9 L137.0,37.4 L137.2,38.6 L137.3,39.8 L137.5,41.1 L137.6,42.3 L137.8,43.6 L138.0,44.9 L138.1,46.3 L138.3,47.6 L138.5,49.0 L138.7,50.1 L138.9,51.3 L139.0,52.4 L139.2,53.6 L139.4,54.8 L139.6,56.0 L139.8,57.2 L140.0,58.5 L140.2,59.7 L140.4,60.9 L140.6,62.1 L140.8,63.2 L141.0,64.4 L141.2,65.7 L141.4,66.9 L141.7,68.2 L141.9,69.4 L142.1,70.6 L142.3,71.8 L142.5,73.0 L142.8,74.2 L143.0,75.5 L143.2,76.7 L143.4,77.9 L143.6,79.1 L143.8,80.4 L144.0,81.6 L144.2,82.8 L144.4,84.0 L144.7,85.3 L144.9,86.5 L145.1,87.7 L145.3,88.9 L145.5,90.2 L145.7,91.4 L145.9,92.6 L146.1,93.9 L146.4,95.1 L146.6,96.4 L146.8,97.6 L147.1,98.9 L147.3,100.1 L147.5,101.4 L147.7,102.6 L148.0,103.8 L148.2,105.0 L148.5,106.3 L148.8,107.7 L149.0,109.0 L149.3,110.3 L149.6,111.6 L149.9,112.8 L150.2,114.1 L150.4,115.3 L150.7,116.5 L151.1,117.9 L151.5,119.3 L151.8,120.6 L152.2,121.9 L152.6,123.1 L153.0,124.2 L153.9,125.6 L154.9,126.7 L155.9,127.7 L157.4,128.2 L158.8,128.5"/>
<path class="sol" d="M71.0,128.4 L71.9,128.3 L73.5,127.7 L74.7,127.5 L76.0,127.2 L77.3,126.9 L78.2,126.1 L79.7,125.8 L81.0,125.4 L82.2,124.8 L83.3,124.7 L84.5,124.2 L85.6,124.1 L87.1,123.4 L87.9,123.3 L89.3,122.9 L90.8,122.1 L91.8,121.3 L93.2,120.4 L93.7,119.2 L94.6,118.1 L95.2,116.8 L96.0,115.6 L96.4,114.5 L96.9,113.2 L97.7,112.3 L98.1,111.0 L98.7,110.1 L99.0,108.8 L99.2,107.5 L99.8,106.3 L100.2,104.9 L100.4,103.7 L100.5,102.3 L100.9,101.0 L101.4,99.8 L101.6,98.4 L101.7,96.9 L102.3,95.7 L102.4,94.5 L102.8,93.4 L103.8,91.4 L104.3,92.5 L104.7,93.7 L105.2,95.3 L105.7,96.3 L107.6,97.2 L107.9,98.3 L108.3,99.3 L108.4,101.0 L109.1,102.3 L109.2,103.5 L109.6,105.0 L109.9,106.5 L110.4,107.6 L110.7,108.8 L110.9,110.4 L111.2,111.5 L111.5,112.7 L111.8,114.0 L112.4,115.0 L112.7,116.5 L113.2,117.6 L113.4,118.5 L114.5,119.4 L115.4,120.1 L116.3,120.8 L118.6,121.4 L119.1,120.6 L120.0,119.0 L120.6,117.5 L120.9,116.5 L121.1,115.3 L121.4,114.4 L121.7,113.1 L121.8,111.8 L122.1,110.8 L122.7,109.6 L122.9,108.3 L123.1,106.9 L123.2,105.9 L123.6,104.4 L123.6,103.2 L124.1,102.1 L124.1,101.0 L124.4,99.6 L124.5,98.5 L124.8,97.2 L125.2,96.0 L125.3,94.8 L125.4,93.6 L125.8,92.4 L126.0,91.4 L126.1,90.2 L126.5,88.6 L126.8,87.6 L126.8,86.1 L127.1,85.2 L127.3,84.1 L127.8,82.9 L127.9,81.8 L128.1,80.6 L128.7,79.0 L128.8,78.0 L129.3,77.0 L130.0,77.7 L130.8,78.9 L131.1,80.3 L131.3,81.6 L131.8,82.7 L132.6,81.9 L133.1,79.8 L133.2,78.9 L133.4,77.8 L133.7,76.4 L133.7,75.0 L134.2,73.7 L134.3,72.8 L134.4,71.1 L134.7,70.0 L134.7,68.3 L134.9,67.2 L134.8,66.0 L134.8,65.0 L135.0,63.6 L134.9,62.6 L135.1,61.3 L135.2,60.2 L135.5,58.6 L135.3,57.4 L135.7,56.4 L135.5,54.9 L135.8,53.9 L136.0,52.5 L136.0,51.4 L135.9,50.4 L136.0,49.0 L136.0,47.7 L136.0,46.1 L136.5,44.7 L136.5,43.5 L136.7,42.1 L136.5,40.7 L136.9,39.5 L137.0,38.4 L136.8,37.0 L136.8,35.5 L136.9,34.8 L137.2,33.5 L137.6,32.0 L137.6,30.6 L138.0,29.5 L138.1,28.7 L139.5,29.7 L139.7,30.6 L139.6,31.8 L140.2,33.2 L140.3,34.5 L140.2,36.0 L140.5,37.4 L140.8,38.3 L140.9,39.5 L140.8,41.0 L141.0,42.0 L141.5,43.3 L141.3,44.5 L141.6,46.0 L141.7,47.3 L142.0,48.6 L142.4,49.6 L142.4,50.9 L142.5,52.1 L142.6,53.4 L142.7,54.4 L143.3,55.8 L143.3,57.1 L143.4,58.1 L143.8,59.8 L144.0,60.6 L143.8,62.1 L144.3,63.2 L144.3,64.4 L144.6,65.8 L144.6,67.1 L144.9,68.2 L145.0,69.5 L145.6,70.9 L145.7,72.2 L146.0,73.4 L146.0,74.6 L146.3,76.0 L146.5,77.4 L147.1,78.5 L147.2,79.9 L147.6,81.1 L147.8,82.2 L148.1,83.5 L148.6,84.8 L148.7,86.3 L149.2,87.6 L149.4,88.9 L149.7,90.2 L149.8,91.2 L150.3,92.3 L150.7,93.5 L150.8,95.1 L151.1,96.1 L151.1,97.4 L151.7,98.5 L151.9,99.7 L152.0,101.0 L152.5,102.0 L152.5,103.6 L153.0,104.8 L153.3,105.9 L153.6,106.9 L153.7,108.1 L154.2,109.4 L154.2,110.3 L154.8,111.8 L154.9,112.7 L155.3,114.1 L155.8,115.4 L155.9,116.7 L156.1,117.8 L156.6,119.2 L156.9,120.4 L157.4,121.5 L157.8,122.8 L158.1,124.0 L158.8,125.2 L160.1,126.5 L161.1,127.7 L162.4,128.2 L163.6,128.5"/>
<path class="dash" d="M209.2,125.6 L210.3,125.7 L211.6,125.8 L213.0,125.9 L214.5,126.1 L215.9,126.1 L217.3,126.1 L218.5,126.0 L219.3,125.1 L220.0,124.0 L220.6,122.8 L221.2,121.6 L221.7,120.4 L222.3,119.3 L223.1,118.2 L223.8,117.2 L224.5,116.2 L225.2,115.4 L226.6,115.0 L228.1,114.5 L228.7,113.6 L229.3,112.5 L229.9,111.4 L230.4,110.1 L231.0,108.7 L231.2,107.6 L231.4,106.4 L231.6,105.2 L231.8,103.9 L231.9,102.6 L232.1,101.2 L232.3,99.9 L232.5,98.6 L232.6,97.4 L232.8,96.3 L233.0,95.2 L233.6,93.7 L234.3,92.7 L234.9,91.3 L235.1,90.2 L235.3,89.0 L235.5,87.7 L235.7,86.3 L236.0,85.0 L236.2,83.6 L236.4,82.3 L236.6,81.0 L236.8,79.8 L237.1,78.3 L237.4,76.9 L237.7,75.5 L238.1,74.2 L238.4,73.0 L238.7,72.0 L239.7,72.9 L240.7,74.0 L241.3,72.8 L242.0,71.3 L242.6,70.1 L243.6,71.9 L244.5,73.0 L244.6,72.0 L244.8,70.9 L244.9,69.7 L245.0,68.4 L245.1,67.0 L245.3,65.6 L245.4,64.2 L245.5,62.8 L245.6,61.4 L245.8,60.1 L245.9,58.8 L246.0,57.6 L246.1,56.6 L247.0,55.7 L247.2,56.6 L247.4,57.7 L247.6,58.9 L247.8,60.1 L248.0,61.5 L248.2,62.8 L248.4,64.3 L248.5,65.4 L248.7,66.5 L248.8,67.7 L249.0,68.9 L249.1,70.1 L249.3,71.4 L249.4,72.6 L249.6,73.9 L249.7,75.1 L249.9,76.4 L250.0,77.5 L250.2,78.7 L250.3,79.8 L250.5,81.2 L250.8,82.6 L251.0,83.9 L251.2,85.2 L251.5,86.4 L251.7,87.5 L252.0,88.5 L252.2,89.4 L252.9,88.7 L253.5,87.2 L254.2,85.5 L254.5,84.3 L254.8,82.9 L255.2,81.6 L255.5,80.2 L255.8,78.9 L256.1,77.8 L257.4,76.9 L257.6,78.0 L257.8,79.2 L258.0,80.5 L258.2,81.9 L258.4,83.3 L258.6,84.8 L258.8,86.2 L259.0,87.5 L259.2,88.8 L259.5,90.2 L259.7,91.6 L259.9,92.9 L260.2,94.2 L260.4,95.4 L260.7,96.4 L260.9,97.1 L261.1,96.4 L261.4,95.4 L261.6,94.2 L261.8,92.9 L262.1,91.5 L262.3,90.1 L262.6,88.8 L262.8,87.5 L263.0,86.2 L263.3,84.9 L263.6,83.6 L263.8,82.3 L264.1,81.0 L264.3,79.8 L264.6,78.7 L264.8,77.8 L265.6,78.1 L266.3,79.8 L266.5,80.8 L266.6,81.9 L266.8,83.1 L267.0,84.4 L267.1,85.7 L267.3,87.0 L267.5,88.4 L267.7,89.7 L267.8,90.9 L268.0,92.2 L268.2,93.3 L268.6,94.8 L269.0,96.3 L269.3,97.8 L269.7,99.0 L270.1,100.1 L270.5,101.0 L270.9,100.2 L271.3,99.0 L271.7,97.6 L272.1,96.2 L272.5,95.2 L273.5,95.7 L274.4,97.1 L274.7,98.2 L275.0,99.5 L275.4,100.9 L275.7,102.2 L276.0,103.6 L276.3,104.8 L276.7,106.2 L277.2,107.7 L277.6,108.9 L278.1,109.6 L278.5,108.7 L278.9,107.5 L279.3,106.1 L279.8,104.7 L280.2,103.2 L280.6,101.9 L281.1,100.5 L281.6,99.0 L282.1,97.7 L282.6,96.3 L283.1,95.2 L284.3,94.3 L285.4,94.2 L285.9,95.1 L286.4,96.3 L286.8,97.6 L287.3,99.0 L287.6,100.1 L287.8,101.4 L288.1,102.7 L288.3,104.0 L288.6,105.3 L288.8,106.5 L289.1,107.7 L289.3,108.7 L290.2,109.6 L290.3,108.6 L290.5,107.6 L290.6,106.5 L290.7,105.3 L290.9,104.1 L291.0,102.8 L291.2,101.5 L291.3,100.0 L291.5,98.6 L291.6,97.1 L291.7,96.0 L291.8,94.9 L291.8,93.7 L291.9,92.5 L292.0,91.2 L292.1,90.0 L292.1,88.7 L292.2,87.4 L292.3,86.1 L292.4,84.8 L292.5,83.5 L292.5,82.2 L292.6,81.0 L292.7,79.7 L292.8,78.5 L292.9,77.3 L292.9,76.2 L293.0,75.1 L293.1,74.0 L293.3,72.4 L293.5,71.0 L293.7,69.7 L293.9,68.5 L294.1,67.4 L294.3,66.3 L294.5,65.3 L294.7,64.3 L296.0,62.4 L296.7,63.7 L297.4,65.3 L298.1,66.8 L298.9,68.2 L299.7,69.6 L300.5,70.1 L300.7,69.1 L300.8,68.0 L300.9,66.7 L301.1,65.4 L301.2,64.0 L301.4,62.6 L301.5,61.2 L301.7,59.9 L301.8,58.6 L302.0,57.3 L302.1,56.0 L302.3,54.8 L302.5,53.5 L302.7,52.3 L302.8,51.1 L303.0,50.0 L303.2,48.9 L303.7,47.4 L304.2,46.2 L304.7,45.1 L306.6,44.1 L307.0,43.1 L307.4,41.9 L307.8,40.7 L308.2,39.3 L308.4,38.1 L308.6,36.8 L308.8,35.5 L309.0,34.2 L309.2,32.9 L309.3,31.7 L309.5,30.6 L310.1,29.3 L310.3,30.3 L310.4,31.6 L310.6,32.9 L310.7,34.3 L310.9,35.8 L311.1,37.3 L311.2,38.5 L311.4,39.8 L311.5,41.1 L311.7,42.5 L311.8,43.8 L311.9,45.2 L312.1,46.5 L312.2,47.7 L312.4,48.9 L312.7,50.3 L313.0,51.5 L313.4,52.7 L313.7,53.7 L314.0,54.7 L315.3,56.6 L315.4,57.6 L315.5,58.7 L315.6,59.8 L315.7,61.0 L315.8,62.3 L315.9,63.6 L315.9,64.9 L316.0,66.2 L316.1,67.5 L316.2,68.8 L316.3,70.1 L316.4,71.3 L316.5,72.6 L316.5,73.9 L316.6,75.2 L316.7,76.4 L316.8,77.7 L316.8,79.0 L316.9,80.3 L317.0,81.6 L317.0,82.9 L317.1,84.2 L317.2,85.5 L317.3,86.8 L317.4,88.1 L317.4,89.4 L317.5,90.8 L317.6,92.1 L317.7,93.4 L317.8,94.7 L317.9,96.0 L317.9,97.3 L318.0,98.6 L318.1,99.8 L318.2,101.0 L318.3,102.3 L318.4,103.6 L318.6,104.9 L318.7,106.0 L318.8,107.2 L318.9,108.3 L319.1,109.5 L319.2,110.6 L319.4,111.9 L319.6,113.3 L319.8,114.5 L320.1,115.8 L320.3,117.1 L320.5,118.3 L320.8,119.7 L321.1,121.1 L321.4,122.5 L321.7,123.9 L322.0,125.1 L323.0,126.8 L324.0,128.0"/>
<path class="sol" d="M209.2,125.6 L210.5,125.5 L211.7,125.1 L212.8,125.0 L214.5,125.5 L215.6,125.6 L217.2,125.8 L218.5,126.0 L219.5,124.9 L220.5,123.4 L221.4,122.2 L222.3,120.9 L223.5,120.0 L224.3,118.7 L226.6,118.3 L227.3,117.2 L227.6,115.7 L227.9,114.2 L228.6,112.9 L229.1,111.6 L229.4,110.5 L229.9,109.1 L230.1,107.6 L230.5,106.2 L231.0,104.8 L231.2,103.9 L231.4,102.4 L231.7,101.5 L231.8,100.4 L232.0,99.1 L232.0,98.0 L232.5,96.3 L232.6,95.3 L232.6,93.9 L232.8,92.8 L233.0,91.3 L233.1,90.3 L233.2,89.0 L233.6,87.6 L233.6,86.5 L233.8,85.0 L233.7,83.6 L234.0,82.3 L234.3,81.0 L234.4,79.7 L234.6,78.7 L234.5,77.4 L234.7,76.2 L234.7,74.9 L234.9,74.0 L235.3,72.7 L235.7,71.1 L236.2,70.3 L236.6,69.1 L236.8,68.2 L237.3,66.7 L237.6,65.6 L237.7,64.4 L238.2,62.4 L238.1,61.3 L238.5,60.1 L238.3,59.2 L238.5,57.9 L238.4,56.4 L238.5,55.3 L238.6,54.1 L238.6,52.7 L238.7,51.1 L239.1,49.8 L238.9,48.7 L239.1,47.2 L239.4,46.0 L239.3,45.0 L239.2,43.5 L239.6,42.3 L239.6,40.7 L239.7,39.5 L240.2,38.3 L240.4,37.1 L240.5,35.8 L240.5,34.5 L240.7,33.5 L241.4,31.7 L241.8,30.4 L242.6,29.3 L244.5,29.6 L245.4,30.5 L245.9,31.6 L246.7,30.3 L247.4,29.3 L247.8,30.3 L248.3,31.8 L248.6,33.4 L248.9,34.5 L249.3,33.6 L250.1,31.9 L250.9,31.2 L251.0,31.9 L251.3,33.2 L251.7,34.6 L252.1,36.0 L252.2,37.3 L252.3,38.4 L252.4,39.6 L252.8,40.9 L253.0,41.9 L253.1,43.3 L253.1,44.3 L253.4,45.7 L253.8,47.0 L253.7,48.2 L253.9,49.5 L254.2,50.8 L254.4,52.2 L254.5,53.8 L254.6,55.5 L255.1,56.9 L255.0,58.2 L255.2,59.3 L255.3,60.6 L255.5,61.4 L255.6,60.4 L256.2,59.2 L256.3,57.9 L256.6,56.0 L257.1,54.5 L256.9,53.5 L257.4,52.8 L257.3,53.5 L257.8,54.6 L257.5,55.6 L257.8,56.7 L257.8,57.9 L257.9,59.0 L258.1,60.6 L258.1,61.9 L258.3,63.2 L258.5,64.5 L258.8,65.9 L258.6,67.2 L258.7,68.9 L259.0,70.1 L259.2,71.5 L259.3,72.2 L259.3,73.8 L259.5,75.0 L259.4,76.3 L259.7,77.5 L259.7,79.0 L259.9,80.5 L260.0,81.8 L259.9,82.9 L260.0,84.2 L260.1,85.7 L260.4,87.0 L260.5,88.0 L260.4,89.5 L260.4,90.4 L260.4,91.3 L260.9,92.7 L260.9,93.2 L260.9,94.2 L261.0,93.6 L261.4,92.9 L261.6,91.5 L261.7,90.0 L262.3,88.5 L262.1,86.7 L262.6,85.0 L262.8,83.6 L263.2,82.3 L263.4,80.9 L263.8,79.7 L263.9,78.1 L264.1,76.6 L264.4,75.7 L264.5,74.3 L264.9,73.0 L265.1,72.0 L266.0,70.6 L266.7,70.1 L267.0,71.1 L267.4,72.2 L267.5,73.6 L267.8,75.1 L267.8,76.4 L268.2,77.8 L268.4,79.1 L268.8,80.4 L268.6,81.7 L269.2,83.3 L269.4,84.7 L269.3,86.1 L269.9,87.3 L270.2,88.5 L270.2,89.4 L272.1,88.4 L273.5,88.4 L273.6,89.6 L274.1,90.6 L274.4,92.2 L274.4,93.7 L274.7,95.0 L275.1,96.1 L275.4,97.1 L275.9,96.3 L276.2,95.2 L276.7,93.3 L277.3,92.3 L278.7,91.3 L278.9,92.5 L279.2,93.8 L279.3,95.1 L279.4,96.5 L279.7,97.9 L279.8,99.6 L280.0,101.0 L280.5,102.0 L280.6,102.9 L281.1,102.3 L281.6,100.9 L281.7,99.7 L282.2,98.1 L282.5,96.7 L283.1,95.2 L283.6,94.0 L283.7,92.7 L283.9,91.7 L284.2,90.3 L284.5,89.0 L285.0,87.6 L285.3,86.5 L285.4,85.5 L286.2,84.0 L287.0,82.5 L287.7,81.7 L288.3,82.4 L288.6,83.8 L288.9,85.4 L289.3,86.5 L289.8,87.9 L289.9,89.3 L290.2,90.6 L290.6,91.3 L290.7,90.6 L290.8,89.4 L291.1,87.9 L291.2,86.4 L291.5,85.0 L291.7,83.6 L292.0,82.4 L292.0,81.0 L292.2,79.8 L292.7,77.9 L292.6,76.5 L293.1,75.9 L293.2,76.9 L293.5,78.0 L293.9,79.2 L294.2,80.8 L294.2,82.4 L294.5,83.6 L294.6,85.1 L295.0,86.4 L295.1,88.2 L295.2,89.6 L295.4,91.0 L295.5,92.0 L295.6,92.3 L295.6,91.5 L295.9,90.5 L295.8,89.4 L296.2,88.4 L296.0,87.4 L296.0,86.2 L296.1,84.5 L296.3,83.4 L296.6,82.2 L296.6,80.7 L296.6,79.2 L296.9,77.9 L296.7,76.7 L296.8,75.2 L297.0,74.0 L297.3,72.6 L297.0,71.4 L297.1,70.2 L297.2,68.9 L297.3,67.5 L297.5,66.2 L297.5,65.1 L297.4,63.5 L297.9,62.3 L297.9,60.9 L297.9,59.9 L297.9,58.6 L298.1,57.2 L298.3,56.0 L298.1,55.0 L298.1,54.0 L298.3,52.8 L298.6,50.9 L298.7,49.6 L299.1,48.6 L299.1,48.0 L299.2,48.9 L299.3,49.8 L299.2,51.4 L299.3,52.7 L299.7,54.2 L299.5,55.4 L299.9,56.8 L299.9,58.6 L299.8,59.6 L299.9,60.7 L300.2,61.8 L300.4,63.3 L300.1,64.7 L300.2,65.7 L300.5,66.9 L300.5,68.1 L300.5,69.8 L300.8,70.8 L300.9,72.2 L300.7,73.3 L300.8,74.3 L300.9,75.5 L300.9,76.6 L301.2,77.8 L301.4,79.5 L301.9,81.0 L302.1,82.0 L302.4,83.0 L302.4,84.4 L302.8,85.5 L303.1,86.7 L303.3,88.0 L303.5,89.3 L303.8,90.8 L304.2,92.0 L304.3,93.3 L304.5,94.4 L304.8,96.0 L304.7,97.1 L305.1,98.4 L305.0,99.6 L305.2,100.6 L305.6,102.0 L305.7,102.9 L307.0,103.9 L307.8,102.5 L308.6,101.0 L309.6,102.3 L310.5,103.9 L311.2,105.1 L312.4,105.8 L313.7,105.0 L314.7,103.9 L315.6,104.8 L316.3,106.7 L316.5,107.7 L317.0,109.2 L317.1,110.7 L317.8,112.0 L317.9,113.1 L318.2,114.5 L318.5,116.0 L319.0,117.1 L319.5,118.6 L319.7,119.9 L320.1,121.2 L320.6,122.4 L320.9,123.5 L321.3,124.8 L321.8,125.9 L322.0,127.0 L323.0,127.9 L324.0,128.5"/>
<path class="dash" d="M370.4,127.0 L370.4,126.1 L370.4,125.1 L370.5,124.2 L370.5,123.1 L370.5,122.1 L370.5,121.0 L370.5,120.0 L370.6,118.8 L370.6,117.7 L370.6,116.6 L370.6,115.4 L370.7,114.2 L370.7,113.0 L370.7,111.7 L370.7,110.5 L370.8,109.2 L370.8,108.0 L370.8,106.7 L370.8,105.4 L370.9,104.1 L370.9,102.8 L370.9,101.5 L370.9,100.2 L371.0,98.9 L371.0,97.6 L371.0,96.3 L371.0,95.0 L371.1,93.7 L371.1,92.4 L371.1,91.1 L371.1,89.8 L371.2,88.6 L371.2,87.3 L371.2,86.1 L371.3,84.8 L371.3,83.6 L371.3,82.4 L371.3,81.2 L371.4,80.1 L371.4,78.9 L371.4,77.8 L371.4,76.4 L371.5,75.1 L371.5,73.7 L371.5,72.4 L371.6,71.0 L371.6,69.7 L371.6,68.4 L371.7,67.1 L371.7,65.8 L371.7,64.5 L371.7,63.2 L371.8,61.9 L371.8,60.6 L371.8,59.4 L371.9,58.1 L371.9,56.9 L371.9,55.7 L372.0,54.4 L372.0,53.2 L372.0,52.1 L372.1,50.9 L372.1,49.7 L372.1,48.6 L372.2,47.5 L372.2,46.3 L372.2,45.2 L372.3,44.2 L372.3,43.1 L372.4,41.5 L372.5,40.0 L372.6,38.6 L372.7,37.3 L372.9,36.0 L373.0,34.8 L373.1,33.6 L373.2,32.6 L373.3,31.5 L373.4,30.5 L373.6,29.6 L373.7,28.7 L375.6,29.6 L376.0,30.9 L376.3,32.4 L376.7,34.0 L377.0,35.4 L377.4,37.0 L377.7,38.5 L378.1,39.3 L378.3,38.3 L378.6,37.1 L378.8,35.6 L379.0,34.2 L379.3,32.8 L379.5,31.6 L380.1,30.0 L380.8,29.3 L381.0,30.3 L381.3,31.6 L381.5,32.9 L381.8,34.4 L382.0,35.9 L382.3,37.3 L382.5,38.5 L382.8,39.7 L383.0,41.0 L383.3,42.3 L383.5,43.5 L383.8,44.8 L384.1,45.9 L384.3,47.0 L384.9,48.5 L385.6,49.6 L386.2,50.8 L386.7,52.0 L387.2,53.2 L387.7,54.7 L387.9,55.8 L388.0,56.9 L388.2,58.0 L388.4,59.3 L388.6,60.5 L388.7,61.8 L388.9,63.0 L389.1,64.3 L389.3,65.6 L389.5,66.8 L389.7,68.1 L389.9,69.4 L390.1,70.8 L390.4,72.1 L390.6,73.4 L390.8,74.6 L391.0,75.9 L391.2,77.2 L391.5,78.4 L391.7,79.7 L392.0,80.9 L392.3,82.1 L392.5,83.3 L392.8,84.4 L393.0,85.5 L393.4,86.8 L393.8,88.0 L394.1,89.2 L394.5,90.3 L394.9,91.3 L395.9,92.5 L396.8,93.3 L398.7,94.2 L399.1,95.3 L399.5,96.6 L399.9,98.0 L400.3,99.5 L400.7,101.0 L400.9,102.1 L401.2,103.4 L401.4,104.6 L401.7,105.9 L401.9,107.1 L402.1,108.3 L402.4,109.5 L402.6,110.6 L403.1,112.0 L403.6,113.2 L404.0,114.3 L404.5,115.4 L405.4,116.9 L406.4,118.3 L407.2,119.3 L408.1,120.3 L409.0,121.2 L410.0,121.9 L411.1,122.5 L412.2,123.1 L413.5,123.8 L414.8,124.5 L416.1,125.1 L417.4,125.4 L418.7,125.6 L419.9,125.6 L420.9,124.9 L421.8,124.0 L422.8,123.1 L423.8,122.1 L424.8,121.0 L425.7,120.2 L427.7,121.2 L428.3,122.5 L428.9,123.9 L429.6,125.1 L431.0,125.2 L432.5,125.1 L433.9,125.7 L435.4,126.4 L436.5,126.6 L437.6,126.7 L438.9,126.9 L440.2,127.0 L441.4,127.0 L442.8,127.0 L444.1,127.0 L445.5,126.9 L446.8,126.9 L448.0,126.8 L449.5,126.5 L450.8,126.2 L452.0,125.8 L453.5,125.1 L455.0,124.5 L456.3,124.8 L457.6,125.1 L459.0,125.5 L460.3,125.7 L461.6,125.8 L463.0,126.0 L464.3,126.1 L465.7,126.1 L467.1,126.2 L468.5,126.2 L470.0,126.3 L471.3,126.4 L472.6,126.6 L474.0,126.8 L475.3,127.0 L476.7,127.1 L478.0,127.3 L479.4,127.4 L480.8,127.5 L482.2,127.6 L483.6,127.7 L484.9,127.7 L486.0,127.8"/>
<path class="sol3" d="M370.4,127.0 L370.3,126.1 L370.4,125.1 L370.5,123.8 L370.3,123.1 L370.4,121.7 L370.8,120.7 L370.8,119.5 L370.7,118.1 L370.7,117.2 L370.7,115.9 L370.8,114.4 L370.9,113.3 L370.7,111.7 L371.0,110.6 L371.0,109.5 L371.0,108.1 L370.9,106.7 L371.0,105.4 L371.2,103.7 L370.9,102.4 L371.3,101.1 L371.2,99.7 L371.2,98.4 L371.2,97.1 L371.2,96.0 L371.3,95.0 L371.3,93.8 L371.4,92.7 L371.4,91.1 L371.5,90.2 L371.5,88.9 L371.5,87.5 L371.5,86.4 L371.3,84.9 L371.6,84.1 L371.3,82.8 L371.4,81.2 L371.4,80.3 L371.7,78.7 L371.6,77.4 L371.7,76.3 L371.8,75.4 L371.6,74.1 L371.6,72.5 L371.7,71.2 L371.5,70.2 L371.7,68.8 L371.5,67.9 L371.7,66.8 L371.9,65.4 L371.8,64.2 L371.9,63.1 L371.9,62.0 L372.0,60.8 L371.8,59.8 L371.9,58.6 L371.8,57.1 L372.2,55.8 L372.0,54.2 L372.0,53.1 L371.9,51.8 L372.2,50.2 L372.2,49.1 L372.3,47.8 L372.4,46.7 L372.1,45.2 L372.4,44.4 L372.3,43.0 L372.5,41.8 L372.4,40.7 L372.5,39.7 L372.5,38.5 L372.7,37.3 L372.7,36.5 L372.7,35.4 L372.8,33.5 L373.2,32.1 L373.0,30.9 L373.4,29.7 L373.4,28.8 L373.7,28.1 L374.3,29.0 L374.7,30.3 L375.0,31.6 L375.5,30.0 L376.2,28.7 L376.5,29.7 L376.3,30.7 L376.6,32.0 L376.8,33.6 L376.6,34.8 L377.0,36.4 L377.1,37.8 L377.1,39.3 L377.0,40.4 L377.4,41.6 L377.4,43.0 L377.5,44.3 L377.9,45.6 L377.6,47.3 L378.1,48.6 L378.0,49.9 L378.3,50.7 L378.4,52.1 L378.5,52.9 L378.5,53.7 L378.6,53.0 L378.7,51.9 L379.1,50.8 L379.3,49.3 L379.5,48.1 L379.7,46.7 L379.7,45.1 L380.0,43.8 L379.8,42.6 L380.0,41.0 L380.3,39.7 L380.3,38.5 L380.6,36.9 L380.6,35.9 L380.8,34.5 L381.1,33.1 L381.3,31.4 L381.7,30.5 L382.0,29.6 L382.1,30.7 L382.6,32.1 L382.8,33.3 L382.9,35.4 L383.1,36.6 L382.9,37.5 L383.2,38.9 L383.4,40.1 L383.6,41.2 L383.5,42.5 L383.6,43.8 L384.1,45.4 L383.9,46.5 L384.1,47.6 L384.3,48.9 L384.4,50.3 L384.7,51.4 L384.7,52.6 L384.9,54.0 L385.3,55.1 L385.2,56.1 L385.6,57.5 L385.8,58.6 L386.2,59.9 L386.4,61.3 L386.5,62.5 L386.7,63.9 L386.9,65.1 L387.2,66.3 L387.5,67.5 L387.8,68.9 L387.9,70.1 L388.4,71.5 L389.0,72.6 L389.1,74.0 L389.5,75.3 L389.5,76.3 L389.7,77.6 L390.1,78.9 L390.4,80.0 L390.6,81.2 L390.6,82.4 L391.0,83.6 L391.0,84.8 L391.5,86.2 L391.4,87.7 L392.0,89.3 L391.8,91.0 L392.0,92.3 L392.5,93.4 L392.6,94.2 L393.1,93.3 L393.3,91.6 L393.5,90.1 L393.7,88.3 L393.9,87.5 L394.2,88.5 L394.0,89.4 L394.4,91.0 L394.4,92.2 L394.6,93.8 L394.9,95.2 L395.2,96.3 L395.2,97.5 L395.3,98.8 L395.3,100.1 L395.9,101.3 L396.0,102.4 L396.1,103.8 L396.2,104.8 L396.7,106.2 L397.0,107.5 L397.6,108.4 L397.8,109.6 L398.6,111.2 L399.7,112.5 L400.8,113.5 L401.6,114.5 L402.6,115.5 L403.6,116.4 L404.4,117.7 L405.5,119.3 L406.0,120.6 L406.6,121.7 L407.4,123.1 L408.4,124.2 L409.2,124.9 L410.3,125.6 L411.4,126.0 L412.6,126.0 L413.7,126.0 L415.1,126.4 L416.5,126.4 L417.9,126.5 L419.4,126.7 L420.9,126.6 L422.2,126.3 L423.6,125.6 L424.8,125.1 L426.7,126.4 L427.9,126.2 L429.4,125.5 L430.5,125.1 L431.9,125.9 L433.4,126.6 L434.8,126.8 L436.0,127.3 L437.2,127.1 L438.7,127.4 L439.7,127.5 L441.2,127.5 L442.5,127.1 L443.5,127.1 L444.8,127.2 L446.3,127.2 L447.3,126.9 L448.8,126.5 L450.2,125.8 L451.6,125.2 L452.9,124.3 L453.8,123.8 L455.1,123.1 L456.3,123.5 L457.7,124.3 L458.8,125.1 L459.6,125.8 L461.1,126.6 L462.3,126.8 L463.6,126.9 L465.3,127.0 L466.6,126.9 L468.0,127.2 L469.2,127.4 L470.6,127.5 L472.4,127.3 L473.8,127.5 L475.0,127.7 L476.0,127.7"/>
<path class="dash" d="M50.5,273.1 L51.3,263.5 L53.2,261.5 L54.5,254.3 L56.7,247.4 L59.4,245.9 L61.2,236.3 L62.9,228.0 L64.4,219.7 L66.2,207.8 L67.9,195.0 L69.4,193.2 L69.9,193.1 L71.4,186.2 L72.2,177.3 L73.7,175.4 L74.8,174.8 L75.7,179.3 L77.2,187.4 L77.8,197.3 L80.2,211.2 L81.3,215.7 L82.6,226.5 L83.9,242.3 L85.6,254.4 L87.6,260.3 L89.7,264.2 L91.5,266.6 L94.6,270.9 L98.4,271.5 L102.1,270.5 L107.1,270.2 L111.3,270.2 L116.7,273.5 L124.6,272.7 L144.9,272.0 L157.8,273.7"/>
<path class="sol2" d="M50.8,273.0 L50.6,271.7 L50.8,270.5 L50.6,269.4 L51.4,268.4 L51.3,266.6 L51.2,265.4 L51.0,264.0 L51.4,263.3 L53.1,262.3 L53.1,261.6 L53.9,260.3 L54.1,258.6 L54.0,257.6 L54.6,256.4 L55.0,254.6 L55.0,253.7 L55.5,252.6 L55.8,250.9 L56.2,249.7 L57.0,249.2 L57.0,247.9 L58.0,246.9 L58.9,246.0 L59.5,245.0 L59.7,244.1 L59.6,242.5 L59.9,241.3 L59.8,239.9 L60.6,238.4 L60.2,237.6 L60.8,236.3 L60.9,235.0 L61.4,233.6 L62.2,232.2 L62.0,231.0 L62.5,229.7 L62.7,228.6 L62.8,227.6 L63.0,226.3 L63.6,224.8 L63.1,223.7 L63.9,222.8 L63.7,221.4 L63.8,220.2 L64.3,219.0 L64.1,217.9 L65.0,216.9 L65.1,215.6 L64.8,213.7 L65.7,212.8 L65.5,211.7 L65.9,210.3 L65.8,208.4 L66.2,207.4 L66.3,205.8 L66.5,205.1 L66.6,203.0 L66.5,201.7 L67.3,200.5 L67.0,199.0 L67.8,198.0 L67.3,196.5 L67.7,195.8 L68.1,193.7 L69.1,193.0 L70.1,193.9 L70.4,192.6 L70.0,191.7 L70.3,190.8 L70.4,189.0 L71.1,187.5 L71.0,186.2 L71.5,185.0 L71.0,183.7 L71.0,182.4 L71.3,181.5 L71.9,180.0 L71.4,178.6 L71.7,177.4 L72.0,176.6 L72.5,175.6 L73.5,174.6 L74.9,174.3 L74.9,175.1 L75.8,176.9 L75.8,178.5 L76.3,179.5 L76.4,180.8 L76.4,182.1 L76.3,182.8 L76.2,184.7 L76.9,186.0 L76.5,187.0 L76.8,188.1 L77.2,189.4 L77.4,190.5 L77.4,191.8 L77.3,193.2 L78.0,193.7 L78.2,195.6 L78.2,196.1 L78.2,197.8 L78.7,198.7 L78.8,200.3 L78.3,201.2 L78.8,202.8 L79.1,204.4 L78.8,205.0 L79.5,206.2 L79.6,207.6 L79.7,209.3 L79.9,210.3 L79.7,211.3 L80.4,212.5 L80.6,213.7 L81.1,215.0 L81.2,216.1 L81.4,217.3 L81.2,218.1 L81.8,219.7 L82.2,221.2 L81.8,222.3 L82.5,223.8 L82.0,225.5 L82.6,226.7 L83.0,227.6 L82.9,229.1 L83.2,230.3 L82.9,231.7 L83.6,232.7 L83.0,234.5 L83.8,235.7 L83.5,237.3 L83.9,238.0 L84.2,239.4 L83.8,241.1 L84.1,242.1 L84.2,243.7 L84.1,245.2 L84.3,245.9 L84.7,247.4 L84.9,249.2 L85.2,249.7 L85.0,251.4 L85.3,252.7 L85.5,253.7 L85.9,254.7 L86.0,256.6 L86.5,257.6 L87.4,258.6 L87.4,259.5 L88.2,260.9 L88.5,262.4 L89.3,263.3 L89.9,264.9 L90.4,266.2 L91.3,267.2 L92.4,268.3 L93.1,268.9 L94.2,270.1 L95.6,270.5 L96.8,270.8 L98.0,271.4 L98.9,271.1 L100.8,270.9 L101.9,271.0 L103.4,270.7 L104.3,270.4 L105.6,269.9 L106.7,270.1 L107.8,270.6 L108.8,270.6 L110.2,270.6 L111.5,271.0 L112.3,271.0 L114.1,272.1 L115.2,272.5 L116.3,272.6 L117.8,272.3 L118.5,272.5 L119.7,272.8 L121.0,272.8 L121.7,272.4 L123.6,272.4 L125.0,272.2 L126.2,272.5 L127.1,272.6 L128.4,272.3 L130.0,272.4 L130.8,272.1 L132.1,272.4 L133.9,272.7 L134.8,272.3 L136.4,272.2 L137.4,272.0 L138.6,272.5 L140.3,272.6 L141.3,272.9 L142.7,272.3 L143.5,273.0 L145.0,272.6 L146.9,273.0 L148.0,272.6 L149.0,272.6 L150.5,273.2 L152.4,273.1 L153.2,272.8 L154.5,273.4 L155.6,273.3 L157.1,273.2 L158.0,273.2"/>
<path class="dash" d="M211.8,272.5 L212.4,228.1 L214.8,220.7 L216.9,213.8 L218.5,206.1 L220.3,191.5 L222.4,183.7 L223.5,176.5 L224.8,173.9 L225.5,179.9 L227.1,175.6 L228.8,178.4 L230.1,178.5 L231.7,188.2 L233.5,197.9 L235.2,211.3 L236.8,223.1 L238.5,238.1 L241.0,249.8 L242.6,258.9 L244.4,265.3 L247.1,270.2 L250.4,272.1 L254.3,273.5"/>
<path class="sol2" d="M211.5,273.0 L211.6,272.3 L211.8,271.5 L211.7,270.4 L211.2,269.0 L211.9,268.1 L211.9,266.6 L211.6,265.5 L211.7,264.6 L211.3,263.1 L211.5,262.4 L211.9,260.6 L211.9,259.3 L211.8,258.0 L211.3,257.3 L211.5,255.5 L212.2,254.7 L211.6,253.4 L211.8,251.9 L211.6,250.7 L212.0,249.4 L212.2,247.5 L211.8,246.1 L211.6,244.7 L211.8,243.8 L211.6,242.6 L211.9,241.0 L212.3,239.9 L211.9,238.6 L212.2,237.0 L212.5,235.8 L212.3,235.3 L211.8,234.1 L212.1,232.8 L211.8,231.3 L212.0,231.0 L212.0,229.8 L212.3,228.6 L213.0,226.6 L212.9,224.6 L213.4,223.8 L213.5,223.0 L214.5,222.3 L214.6,220.9 L214.6,220.0 L215.0,218.2 L215.7,217.4 L215.8,216.1 L216.3,214.3 L216.6,213.2 L216.8,211.7 L216.9,210.5 L217.7,209.9 L217.6,207.9 L218.6,207.0 L218.5,205.5 L218.6,204.2 L218.9,203.4 L219.0,201.9 L218.8,201.0 L219.0,199.4 L219.8,197.8 L219.9,197.2 L220.0,195.8 L219.7,194.3 L219.9,193.4 L220.4,192.0 L220.6,190.5 L221.4,189.5 L221.7,187.9 L221.7,186.9 L222.0,185.4 L222.3,184.3 L222.5,182.7 L222.7,182.0 L223.4,180.4 L223.3,178.8 L223.2,177.5 L223.7,176.6 L224.4,175.3 L224.7,174.3 L224.9,175.7 L225.5,177.1 L225.6,178.7 L225.8,179.5 L226.1,178.4 L226.6,176.4 L227.2,175.0 L227.8,176.1 L227.9,177.7 L228.5,178.5 L230.1,178.5 L230.4,179.5 L230.1,180.6 L230.5,181.9 L230.8,183.3 L231.1,184.5 L231.1,185.7 L231.6,187.1 L231.6,188.1 L231.7,189.6 L232.4,190.6 L232.7,192.0 L232.6,192.9 L232.5,194.3 L233.4,195.2 L233.4,196.7 L233.5,197.8 L233.8,198.7 L234.0,200.2 L234.0,201.3 L234.1,202.8 L234.2,204.0 L233.9,204.9 L234.3,206.5 L234.3,207.8 L234.7,208.5 L234.7,209.9 L234.9,211.3 L234.7,212.3 L235.2,213.6 L235.3,214.8 L235.7,216.3 L236.0,217.7 L235.9,219.2 L236.0,220.1 L236.4,221.4 L236.8,222.8 L236.6,224.2 L237.0,224.7 L237.3,226.0 L237.4,227.4 L237.6,229.1 L237.9,229.9 L238.1,231.3 L237.9,232.1 L238.2,233.7 L238.6,235.2 L238.5,235.9 L238.9,236.8 L238.7,238.3 L238.6,239.7 L239.2,240.7 L239.5,242.6 L239.5,243.5 L239.6,244.7 L240.4,246.0 L240.6,247.7 L240.6,248.4 L240.7,249.8 L241.3,251.1 L241.1,252.2 L241.8,253.6 L241.5,254.8 L241.6,256.1 L242.1,257.1 L242.6,258.7 L242.6,259.5 L242.6,260.8 L243.2,262.3 L243.9,262.8 L243.9,263.8 L244.5,265.2 L245.6,266.3 L246.0,267.7 L246.8,269.1 L247.4,270.1 L248.5,270.7 L249.5,271.7 L250.3,272.6 L251.7,272.8 L252.9,273.3 L254.2,273.5"/>
<line class="err" x1="81.53" y1="402.27" x2="81.53" y2="397.68"/>
<line class="err" x1="78.73" y1="397.68" x2="84.33" y2="397.68"/>
<rect class="bar" x="70.70" y="402.27" width="21.65" height="164.33" fill="#fff"/>
<line class="err" x1="103.17" y1="408.34" x2="103.17" y2="369.31"/>
<line class="err" x1="100.38" y1="369.31" x2="105.97" y2="369.31"/>
<rect class="bar" x="92.35" y="408.34" width="21.65" height="158.26" fill="#b4b4b4"/>
<line class="err" x1="124.83" y1="416.05" x2="124.83" y2="405.22"/>
<line class="err" x1="122.03" y1="405.22" x2="127.62" y2="405.22"/>
<rect class="bar" x="114.00" y="416.05" width="21.65" height="150.55" fill="#000"/>
<line class="err" x1="171.62" y1="491.16" x2="171.62" y2="477.55"/>
<line class="err" x1="168.82" y1="477.55" x2="174.43" y2="477.55"/>
<rect class="bar" x="160.80" y="491.16" width="21.65" height="75.44" fill="#fff"/>
<line class="err" x1="193.28" y1="430.48" x2="193.28" y2="398.17"/>
<line class="err" x1="190.47" y1="398.17" x2="196.08" y2="398.17"/>
<rect class="bar" x="182.45" y="430.48" width="21.65" height="136.12" fill="#b4b4b4"/>
<line class="err" x1="214.93" y1="427.20" x2="214.93" y2="408.83"/>
<line class="err" x1="212.12" y1="408.83" x2="217.73" y2="408.83"/>
<rect class="bar" x="204.10" y="427.20" width="21.65" height="139.40" fill="#000"/>
<line class="err" x1="263.02" y1="562.01" x2="263.02" y2="559.06"/>
<line class="err" x1="260.22" y1="559.06" x2="265.82" y2="559.06"/>
<rect class="bar" x="252.20" y="562.01" width="21.65" height="4.59" fill="#fff"/>
<line class="err" x1="284.67" y1="560.37" x2="284.67" y2="557.42"/>
<line class="err" x1="281.87" y1="557.42" x2="287.47" y2="557.42"/>
<rect class="bar" x="273.85" y="560.37" width="21.65" height="6.23" fill="#b4b4b4"/>
<line class="err" x1="306.32" y1="564.30" x2="306.32" y2="562.34"/>
<line class="err" x1="303.52" y1="562.34" x2="309.12" y2="562.34"/>
<rect class="bar" x="295.50" y="564.30" width="21.65" height="2.30" fill="#000"/>
<line class="err" x1="353.12" y1="563.32" x2="353.12" y2="561.68"/>
<line class="err" x1="350.32" y1="561.68" x2="355.93" y2="561.68"/>
<rect class="bar" x="342.30" y="563.32" width="21.65" height="3.28" fill="#fff"/>
<line class="err" x1="374.77" y1="564.63" x2="374.77" y2="563.65"/>
<line class="err" x1="371.97" y1="563.65" x2="377.57" y2="563.65"/>
<rect class="bar" x="363.95" y="564.63" width="21.65" height="1.97" fill="#b4b4b4"/>
<line class="err" x1="396.43" y1="564.63" x2="396.43" y2="562.66"/>
<line class="err" x1="393.62" y1="562.66" x2="399.23" y2="562.66"/>
<rect class="bar" x="385.60" y="564.63" width="21.65" height="1.97" fill="#000"/>
<line class="err" x1="443.32" y1="564.96" x2="443.32" y2="564.30"/>
<line class="err" x1="440.52" y1="564.30" x2="446.12" y2="564.30"/>
<rect class="bar" x="432.50" y="564.96" width="21.65" height="1.64" fill="#fff"/>
<line class="err" x1="464.97" y1="564.96" x2="464.97" y2="564.47"/>
<line class="err" x1="462.17" y1="564.47" x2="467.77" y2="564.47"/>
<rect class="bar" x="454.15" y="564.96" width="21.65" height="1.64" fill="#b4b4b4"/>
<line class="err" x1="486.62" y1="565.29" x2="486.62" y2="564.63"/>
<line class="err" x1="483.82" y1="564.63" x2="489.43" y2="564.63"/>
<rect class="bar" x="475.80" y="565.29" width="21.65" height="1.31" fill="#000"/>
<polygon points="190.80,376.70 191.52,378.61 193.56,378.70 191.96,379.98 192.50,381.95 190.80,380.82 189.10,381.95 189.64,379.98 188.04,378.70 190.08,378.61" fill="#111"/><polygon points="196.60,376.70 197.32,378.61 199.36,378.70 197.76,379.98 198.30,381.95 196.60,380.82 194.90,381.95 195.44,379.98 193.84,378.70 195.88,378.61" fill="#111"/><polygon points="213.30,388.80 214.02,390.71 216.06,390.80 214.46,392.08 215.00,394.05 213.30,392.92 211.60,394.05 212.14,392.08 210.54,390.80 212.58,390.71" fill="#111"/><polygon points="219.00,388.80 219.72,390.71 221.76,390.80 220.16,392.08 220.70,394.05 219.00,392.92 217.30,394.05 217.84,392.08 216.24,390.80 218.28,390.71" fill="#111"/>
<line x1="58.0" y1="336.2" x2="58.0" y2="570.4" stroke="#000" stroke-width="2.3"/>
<line x1="53.8" y1="566.6" x2="511.3" y2="566.6" stroke="#000" stroke-width="2.2"/>
<line x1="53.5" y1="566.60" x2="58" y2="566.60" stroke="#000" stroke-width="1.6"/>
<text class="bl" x="38.80" y="571.50" textLength="6.2" lengthAdjust="spacingAndGlyphs">0</text>
<line x1="53.5" y1="533.80" x2="58" y2="533.80" stroke="#000" stroke-width="1.6"/>
<text class="bl" x="29.10" y="538.70" textLength="15.9" lengthAdjust="spacingAndGlyphs">0.2</text>
<line x1="53.5" y1="501.00" x2="58" y2="501.00" stroke="#000" stroke-width="1.6"/>
<text class="bl" x="29.10" y="505.90" textLength="15.9" lengthAdjust="spacingAndGlyphs">0.4</text>
<line x1="53.5" y1="468.20" x2="58" y2="468.20" stroke="#000" stroke-width="1.6"/>
<text class="bl" x="29.10" y="473.10" textLength="15.9" lengthAdjust="spacingAndGlyphs">0.6</text>
<line x1="53.5" y1="435.40" x2="58" y2="435.40" stroke="#000" stroke-width="1.6"/>
<text class="bl" x="29.10" y="440.30" textLength="15.9" lengthAdjust="spacingAndGlyphs">0.8</text>
<line x1="53.5" y1="402.60" x2="58" y2="402.60" stroke="#000" stroke-width="1.6"/>
<text class="bl" x="40.20" y="407.50" textLength="4.8" lengthAdjust="spacingAndGlyphs">1</text>
<line x1="53.5" y1="369.80" x2="58" y2="369.80" stroke="#000" stroke-width="1.6"/>
<text class="bl" x="29.60" y="374.70" textLength="15.4" lengthAdjust="spacingAndGlyphs">1.2</text>
<line x1="53.5" y1="337.00" x2="58" y2="337.00" stroke="#000" stroke-width="1.6"/>
<text class="bl" x="29.60" y="341.90" textLength="15.4" lengthAdjust="spacingAndGlyphs">1.4</text>
<line x1="148.20" y1="566.6" x2="148.20" y2="570.6" stroke="#000" stroke-width="1.6"/>
<line x1="238.70" y1="566.6" x2="238.70" y2="570.6" stroke="#000" stroke-width="1.6"/>
<line x1="329.20" y1="566.6" x2="329.20" y2="570.6" stroke="#000" stroke-width="1.6"/>
<line x1="419.70" y1="566.6" x2="419.70" y2="570.6" stroke="#000" stroke-width="1.6"/>
<line x1="510.20" y1="566.6" x2="510.20" y2="570.6" stroke="#000" stroke-width="1.6"/>

<!-- Panel B labels -->
<text class="big" transform="translate(20.3,518) rotate(-90)" textLength="130.5" lengthAdjust="spacingAndGlyphs" style="font-size:14.2px;stroke-width:0.4">Relative GFP intensity</text>
<text class="big" x="79.2" y="590.9" textLength="47.7" lengthAdjust="spacingAndGlyphs">Ter119<tspan font-size="11" dy="-3.6">+</tspan></text>
<text class="big" x="172.2" y="590.9" textLength="37.8" lengthAdjust="spacingAndGlyphs">CD41<tspan font-size="11" dy="-3.6">+</tspan></text>
<text class="big" x="248.3" y="590.9" textLength="72.3" lengthAdjust="spacingAndGlyphs">Gr1<tspan font-size="11" dy="-3.6">+</tspan><tspan dy="3.6">/Mac1</tspan><tspan font-size="11" dy="-3.6">+</tspan></text>
<text class="big" x="358.5" y="590.9" textLength="35.5" lengthAdjust="spacingAndGlyphs">B220<tspan font-size="11" dy="-3.6">+</tspan></text>
<text class="big" x="436.4" y="590.9" textLength="72.4" lengthAdjust="spacingAndGlyphs">Thymocytes</text>

<!-- legend B -->
<rect x="348.8" y="369.2" width="8" height="7" fill="#fff" stroke="#000" stroke-width="1.1"/>
<rect x="348.8" y="391" width="8" height="7" fill="#b4b4b4" stroke="#000" stroke-width="1.1"/>
<rect x="348.8" y="413" width="8" height="7" fill="#000" stroke="#000" stroke-width="1.1"/>
<text class="big" x="360.5" y="378.3" textLength="53.3" lengthAdjust="spacingAndGlyphs">G1B-GFP</text>
<text class="big" x="360.5" y="400.7" textLength="93.3" lengthAdjust="spacingAndGlyphs">MG-GFP line 19</text>
<text class="big" x="360.5" y="423" textLength="93.3" lengthAdjust="spacingAndGlyphs">MG-GFP line 20</text>
</svg>
</body></html>
